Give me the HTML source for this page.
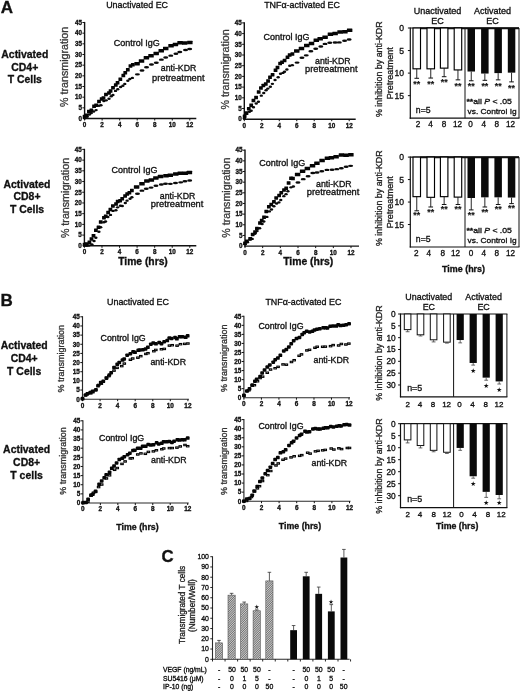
<!DOCTYPE html>
<html lang="en">
<head>
<meta charset="utf-8">
<title>Figure</title>
<style>
html,body{margin:0;padding:0;background:#fff;}
body{width:520px;height:691px;overflow:hidden;}
svg{display:block;font-family:'Liberation Sans', sans-serif;}
svg text{font-family:"Liberation Sans", sans-serif;}
</style>
</head>
<body>
<svg width="520" height="691" viewBox="0 0 520 691" style="filter:blur(0.4px)">
<rect x="0" y="0" width="520" height="691" fill="#fff"/>
<text x="0.80" y="13.20" font-size="17.0" font-weight="bold" fill="#111" stroke="#111" stroke-width="0.32">A</text>
<text x="106.20" y="8.00" font-size="8.8" fill="#111" stroke="#111" stroke-width="0.32" textLength="61.80" lengthAdjust="spacingAndGlyphs">Unactivated EC</text>
<text x="264.20" y="7.80" font-size="8.8" fill="#111" stroke="#111" stroke-width="0.32" textLength="75.80" lengthAdjust="spacingAndGlyphs">TNFα-activated EC</text>
<text x="24.80" y="58.20" font-size="10.45" font-weight="bold" text-anchor="middle" fill="#111" stroke="#111" stroke-width="0.32">Activated</text>
<text x="24.80" y="70.60" font-size="10.45" font-weight="bold" text-anchor="middle" fill="#111" stroke="#111" stroke-width="0.32">CD4+</text>
<text x="24.80" y="83.00" font-size="10.45" font-weight="bold" text-anchor="middle" fill="#111" stroke="#111" stroke-width="0.32">T Cells</text>
<text x="27.00" y="187.80" font-size="10.45" font-weight="bold" text-anchor="middle" fill="#111" stroke="#111" stroke-width="0.32">Activated</text>
<text x="27.00" y="200.20" font-size="10.45" font-weight="bold" text-anchor="middle" fill="#111" stroke="#111" stroke-width="0.32">CD8+</text>
<text x="27.00" y="212.60" font-size="10.45" font-weight="bold" text-anchor="middle" fill="#111" stroke="#111" stroke-width="0.32">T Cells</text>
<line x1="84.60" y1="21.90" x2="84.60" y2="119.20" stroke="#111" stroke-width="1.4" stroke-linecap="butt"/>
<line x1="83.90" y1="118.50" x2="196.30" y2="118.50" stroke="#111" stroke-width="1.4" stroke-linecap="butt"/>
<text x="82.00" y="120.77" font-size="6.3" font-weight="bold" text-anchor="end" fill="#111" stroke="#111" stroke-width="0.32">0</text>
<line x1="82.40" y1="107.83" x2="84.60" y2="107.83" stroke="#111" stroke-width="1.0" stroke-linecap="butt"/>
<text x="82.00" y="110.10" font-size="6.3" font-weight="bold" text-anchor="end" fill="#111" stroke="#111" stroke-width="0.32">5</text>
<line x1="82.40" y1="97.17" x2="84.60" y2="97.17" stroke="#111" stroke-width="1.0" stroke-linecap="butt"/>
<text x="82.00" y="99.43" font-size="6.3" font-weight="bold" text-anchor="end" fill="#111" stroke="#111" stroke-width="0.32">10</text>
<line x1="82.40" y1="86.50" x2="84.60" y2="86.50" stroke="#111" stroke-width="1.0" stroke-linecap="butt"/>
<text x="82.00" y="88.77" font-size="6.3" font-weight="bold" text-anchor="end" fill="#111" stroke="#111" stroke-width="0.32">15</text>
<line x1="82.40" y1="75.83" x2="84.60" y2="75.83" stroke="#111" stroke-width="1.0" stroke-linecap="butt"/>
<text x="82.00" y="78.10" font-size="6.3" font-weight="bold" text-anchor="end" fill="#111" stroke="#111" stroke-width="0.32">20</text>
<line x1="82.40" y1="65.17" x2="84.60" y2="65.17" stroke="#111" stroke-width="1.0" stroke-linecap="butt"/>
<text x="82.00" y="67.43" font-size="6.3" font-weight="bold" text-anchor="end" fill="#111" stroke="#111" stroke-width="0.32">25</text>
<line x1="82.40" y1="54.50" x2="84.60" y2="54.50" stroke="#111" stroke-width="1.0" stroke-linecap="butt"/>
<text x="82.00" y="56.77" font-size="6.3" font-weight="bold" text-anchor="end" fill="#111" stroke="#111" stroke-width="0.32">30</text>
<line x1="82.40" y1="43.83" x2="84.60" y2="43.83" stroke="#111" stroke-width="1.0" stroke-linecap="butt"/>
<text x="82.00" y="46.10" font-size="6.3" font-weight="bold" text-anchor="end" fill="#111" stroke="#111" stroke-width="0.32">35</text>
<line x1="82.40" y1="33.17" x2="84.60" y2="33.17" stroke="#111" stroke-width="1.0" stroke-linecap="butt"/>
<text x="82.00" y="35.43" font-size="6.3" font-weight="bold" text-anchor="end" fill="#111" stroke="#111" stroke-width="0.32">40</text>
<line x1="82.40" y1="22.50" x2="84.60" y2="22.50" stroke="#111" stroke-width="1.0" stroke-linecap="butt"/>
<text x="82.00" y="24.77" font-size="6.3" font-weight="bold" text-anchor="end" fill="#111" stroke="#111" stroke-width="0.32">45</text>
<line x1="84.60" y1="118.50" x2="84.60" y2="120.50" stroke="#111" stroke-width="1.0" stroke-linecap="butt"/>
<text x="84.60" y="126.90" font-size="6.3" font-weight="bold" text-anchor="middle" fill="#111" stroke="#111" stroke-width="0.32">0</text>
<line x1="102.13" y1="118.50" x2="102.13" y2="120.50" stroke="#111" stroke-width="1.0" stroke-linecap="butt"/>
<text x="102.13" y="126.90" font-size="6.3" font-weight="bold" text-anchor="middle" fill="#111" stroke="#111" stroke-width="0.32">2</text>
<line x1="119.67" y1="118.50" x2="119.67" y2="120.50" stroke="#111" stroke-width="1.0" stroke-linecap="butt"/>
<text x="119.67" y="126.90" font-size="6.3" font-weight="bold" text-anchor="middle" fill="#111" stroke="#111" stroke-width="0.32">4</text>
<line x1="137.20" y1="118.50" x2="137.20" y2="120.50" stroke="#111" stroke-width="1.0" stroke-linecap="butt"/>
<text x="137.20" y="126.90" font-size="6.3" font-weight="bold" text-anchor="middle" fill="#111" stroke="#111" stroke-width="0.32">6</text>
<line x1="154.73" y1="118.50" x2="154.73" y2="120.50" stroke="#111" stroke-width="1.0" stroke-linecap="butt"/>
<text x="154.73" y="126.90" font-size="6.3" font-weight="bold" text-anchor="middle" fill="#111" stroke="#111" stroke-width="0.32">8</text>
<line x1="172.27" y1="118.50" x2="172.27" y2="120.50" stroke="#111" stroke-width="1.0" stroke-linecap="butt"/>
<text x="172.27" y="126.90" font-size="6.3" font-weight="bold" text-anchor="middle" fill="#111" stroke="#111" stroke-width="0.32">10</text>
<line x1="189.80" y1="118.50" x2="189.80" y2="120.50" stroke="#111" stroke-width="1.0" stroke-linecap="butt"/>
<text x="189.80" y="126.90" font-size="6.3" font-weight="bold" text-anchor="middle" fill="#111" stroke="#111" stroke-width="0.32">12</text>
<ellipse cx="84.60" cy="118.25" rx="1.68" ry="1.22" fill="#0a0a0a"/><ellipse cx="87.15" cy="116.76" rx="1.68" ry="1.22" fill="#0a0a0a"/><ellipse cx="89.42" cy="114.58" rx="1.68" ry="1.22" fill="#0a0a0a"/><ellipse cx="91.31" cy="113.01" rx="1.68" ry="1.22" fill="#0a0a0a"/><ellipse cx="93.68" cy="111.54" rx="1.68" ry="1.22" fill="#0a0a0a"/><ellipse cx="96.10" cy="110.10" rx="1.68" ry="1.22" fill="#0a0a0a"/><ellipse cx="98.87" cy="105.82" rx="1.68" ry="1.22" fill="#0a0a0a"/><ellipse cx="100.94" cy="105.32" rx="1.68" ry="1.22" fill="#0a0a0a"/><ellipse cx="103.86" cy="101.04" rx="1.68" ry="1.22" fill="#0a0a0a"/><ellipse cx="106.20" cy="100.35" rx="1.68" ry="1.22" fill="#0a0a0a"/><ellipse cx="109.01" cy="98.77" rx="1.68" ry="1.22" fill="#0a0a0a"/><ellipse cx="111.28" cy="96.23" rx="1.68" ry="1.22" fill="#0a0a0a"/><ellipse cx="112.92" cy="95.03" rx="1.68" ry="1.22" fill="#0a0a0a"/><ellipse cx="115.48" cy="90.90" rx="1.68" ry="1.22" fill="#0a0a0a"/><ellipse cx="117.74" cy="89.25" rx="1.68" ry="1.22" fill="#0a0a0a"/><ellipse cx="120.61" cy="87.06" rx="1.68" ry="1.22" fill="#0a0a0a"/><ellipse cx="122.90" cy="85.83" rx="1.68" ry="1.22" fill="#0a0a0a"/><ellipse cx="124.78" cy="83.90" rx="1.68" ry="1.22" fill="#0a0a0a"/><ellipse cx="127.83" cy="80.79" rx="1.68" ry="1.22" fill="#0a0a0a"/><ellipse cx="129.83" cy="78.95" rx="1.68" ry="1.22" fill="#0a0a0a"/><ellipse cx="132.37" cy="77.89" rx="1.68" ry="1.22" fill="#0a0a0a"/><ellipse cx="137.41" cy="74.35" rx="2.52" ry="1.22" fill="#0a0a0a"/><ellipse cx="142.01" cy="70.44" rx="2.52" ry="1.22" fill="#0a0a0a"/><ellipse cx="146.54" cy="67.33" rx="2.52" ry="1.22" fill="#0a0a0a"/><ellipse cx="151.46" cy="64.53" rx="2.52" ry="1.22" fill="#0a0a0a"/><ellipse cx="156.32" cy="62.74" rx="2.52" ry="1.22" fill="#0a0a0a"/><ellipse cx="161.39" cy="59.64" rx="2.52" ry="1.22" fill="#0a0a0a"/><ellipse cx="165.69" cy="57.53" rx="2.52" ry="1.22" fill="#0a0a0a"/><ellipse cx="170.76" cy="55.65" rx="2.52" ry="1.22" fill="#0a0a0a"/><ellipse cx="175.92" cy="53.72" rx="2.52" ry="1.22" fill="#0a0a0a"/><ellipse cx="179.77" cy="52.09" rx="2.52" ry="1.22" fill="#0a0a0a"/><ellipse cx="185.54" cy="50.06" rx="2.52" ry="1.22" fill="#0a0a0a"/><ellipse cx="189.68" cy="48.97" rx="2.52" ry="1.22" fill="#0a0a0a"/><rect x="82.71" y="114.71" width="3.78" height="3.50" rx="0.3" fill="#050505"/><rect x="84.75" y="113.53" width="3.78" height="3.50" rx="0.3" fill="#050505"/><rect x="87.03" y="109.78" width="3.78" height="3.50" rx="0.3" fill="#050505"/><rect x="89.49" y="108.61" width="3.78" height="3.50" rx="0.3" fill="#050505"/><rect x="92.16" y="104.55" width="3.78" height="3.50" rx="0.3" fill="#050505"/><rect x="94.22" y="103.53" width="3.78" height="3.50" rx="0.3" fill="#050505"/><rect x="97.11" y="99.70" width="3.78" height="3.50" rx="0.3" fill="#050505"/><rect x="99.78" y="97.14" width="3.78" height="3.50" rx="0.3" fill="#050505"/><rect x="101.60" y="96.32" width="3.78" height="3.50" rx="0.3" fill="#050505"/><rect x="104.08" y="92.63" width="3.78" height="3.50" rx="0.3" fill="#050505"/><rect x="107.10" y="91.19" width="3.78" height="3.50" rx="0.3" fill="#050505"/><rect x="108.67" y="89.36" width="3.78" height="3.50" rx="0.3" fill="#050505"/><rect x="111.12" y="86.00" width="3.78" height="3.50" rx="0.3" fill="#050505"/><rect x="113.89" y="83.36" width="3.78" height="3.50" rx="0.3" fill="#050505"/><rect x="115.66" y="80.96" width="3.78" height="3.50" rx="0.3" fill="#050505"/><rect x="118.44" y="77.46" width="3.78" height="3.50" rx="0.3" fill="#050505"/><rect x="121.44" y="73.80" width="3.78" height="3.50" rx="0.3" fill="#050505"/><rect x="123.37" y="71.10" width="3.78" height="3.50" rx="0.3" fill="#050505"/><rect x="125.93" y="68.07" width="3.78" height="3.50" rx="0.3" fill="#050505"/><rect x="128.56" y="64.24" width="3.78" height="3.50" rx="0.3" fill="#050505"/><rect x="130.92" y="62.93" width="3.78" height="3.50" rx="0.3" fill="#050505"/><rect x="134.35" y="61.90" width="5.48" height="3.50" rx="0.3" fill="#050505"/><rect x="138.78" y="59.26" width="5.48" height="3.50" rx="0.3" fill="#050505"/><rect x="143.67" y="55.96" width="5.48" height="3.50" rx="0.3" fill="#050505"/><rect x="148.28" y="53.98" width="5.48" height="3.50" rx="0.3" fill="#050505"/><rect x="153.44" y="51.65" width="5.48" height="3.50" rx="0.3" fill="#050505"/><rect x="158.49" y="49.02" width="5.48" height="3.50" rx="0.3" fill="#050505"/><rect x="162.99" y="46.79" width="5.48" height="3.50" rx="0.3" fill="#050505"/><rect x="168.30" y="43.97" width="5.48" height="3.50" rx="0.3" fill="#050505"/><rect x="172.70" y="42.64" width="5.48" height="3.50" rx="0.3" fill="#050505"/><rect x="177.33" y="41.06" width="5.48" height="3.50" rx="0.3" fill="#050505"/><rect x="181.92" y="41.17" width="5.48" height="3.50" rx="0.3" fill="#050505"/><rect x="187.09" y="40.87" width="5.48" height="3.50" rx="0.3" fill="#050505"/>
<text x="68.40" y="66.90" font-size="10.7" text-anchor="middle" fill="#383838" stroke="#383838" stroke-width="0.32" transform="rotate(-90 68.40 66.90)">% transmigration</text>
<line x1="244.30" y1="22.30" x2="244.30" y2="119.90" stroke="#111" stroke-width="1.4" stroke-linecap="butt"/>
<line x1="243.60" y1="119.20" x2="355.70" y2="119.20" stroke="#111" stroke-width="1.4" stroke-linecap="butt"/>
<text x="241.70" y="121.47" font-size="6.3" font-weight="bold" text-anchor="end" fill="#111" stroke="#111" stroke-width="0.32">0</text>
<line x1="242.10" y1="108.50" x2="244.30" y2="108.50" stroke="#111" stroke-width="1.0" stroke-linecap="butt"/>
<text x="241.70" y="110.77" font-size="6.3" font-weight="bold" text-anchor="end" fill="#111" stroke="#111" stroke-width="0.32">5</text>
<line x1="242.10" y1="97.80" x2="244.30" y2="97.80" stroke="#111" stroke-width="1.0" stroke-linecap="butt"/>
<text x="241.70" y="100.07" font-size="6.3" font-weight="bold" text-anchor="end" fill="#111" stroke="#111" stroke-width="0.32">10</text>
<line x1="242.10" y1="87.10" x2="244.30" y2="87.10" stroke="#111" stroke-width="1.0" stroke-linecap="butt"/>
<text x="241.70" y="89.37" font-size="6.3" font-weight="bold" text-anchor="end" fill="#111" stroke="#111" stroke-width="0.32">15</text>
<line x1="242.10" y1="76.40" x2="244.30" y2="76.40" stroke="#111" stroke-width="1.0" stroke-linecap="butt"/>
<text x="241.70" y="78.67" font-size="6.3" font-weight="bold" text-anchor="end" fill="#111" stroke="#111" stroke-width="0.32">20</text>
<line x1="242.10" y1="65.70" x2="244.30" y2="65.70" stroke="#111" stroke-width="1.0" stroke-linecap="butt"/>
<text x="241.70" y="67.97" font-size="6.3" font-weight="bold" text-anchor="end" fill="#111" stroke="#111" stroke-width="0.32">25</text>
<line x1="242.10" y1="55.00" x2="244.30" y2="55.00" stroke="#111" stroke-width="1.0" stroke-linecap="butt"/>
<text x="241.70" y="57.27" font-size="6.3" font-weight="bold" text-anchor="end" fill="#111" stroke="#111" stroke-width="0.32">30</text>
<line x1="242.10" y1="44.30" x2="244.30" y2="44.30" stroke="#111" stroke-width="1.0" stroke-linecap="butt"/>
<text x="241.70" y="46.57" font-size="6.3" font-weight="bold" text-anchor="end" fill="#111" stroke="#111" stroke-width="0.32">35</text>
<line x1="242.10" y1="33.60" x2="244.30" y2="33.60" stroke="#111" stroke-width="1.0" stroke-linecap="butt"/>
<text x="241.70" y="35.87" font-size="6.3" font-weight="bold" text-anchor="end" fill="#111" stroke="#111" stroke-width="0.32">40</text>
<line x1="242.10" y1="22.90" x2="244.30" y2="22.90" stroke="#111" stroke-width="1.0" stroke-linecap="butt"/>
<text x="241.70" y="25.17" font-size="6.3" font-weight="bold" text-anchor="end" fill="#111" stroke="#111" stroke-width="0.32">45</text>
<line x1="244.30" y1="119.20" x2="244.30" y2="121.20" stroke="#111" stroke-width="1.0" stroke-linecap="butt"/>
<text x="244.30" y="127.60" font-size="6.3" font-weight="bold" text-anchor="middle" fill="#111" stroke="#111" stroke-width="0.32">0</text>
<line x1="261.78" y1="119.20" x2="261.78" y2="121.20" stroke="#111" stroke-width="1.0" stroke-linecap="butt"/>
<text x="261.78" y="127.60" font-size="6.3" font-weight="bold" text-anchor="middle" fill="#111" stroke="#111" stroke-width="0.32">2</text>
<line x1="279.27" y1="119.20" x2="279.27" y2="121.20" stroke="#111" stroke-width="1.0" stroke-linecap="butt"/>
<text x="279.27" y="127.60" font-size="6.3" font-weight="bold" text-anchor="middle" fill="#111" stroke="#111" stroke-width="0.32">4</text>
<line x1="296.75" y1="119.20" x2="296.75" y2="121.20" stroke="#111" stroke-width="1.0" stroke-linecap="butt"/>
<text x="296.75" y="127.60" font-size="6.3" font-weight="bold" text-anchor="middle" fill="#111" stroke="#111" stroke-width="0.32">6</text>
<line x1="314.23" y1="119.20" x2="314.23" y2="121.20" stroke="#111" stroke-width="1.0" stroke-linecap="butt"/>
<text x="314.23" y="127.60" font-size="6.3" font-weight="bold" text-anchor="middle" fill="#111" stroke="#111" stroke-width="0.32">8</text>
<line x1="331.72" y1="119.20" x2="331.72" y2="121.20" stroke="#111" stroke-width="1.0" stroke-linecap="butt"/>
<text x="331.72" y="127.60" font-size="6.3" font-weight="bold" text-anchor="middle" fill="#111" stroke="#111" stroke-width="0.32">10</text>
<line x1="349.20" y1="119.20" x2="349.20" y2="121.20" stroke="#111" stroke-width="1.0" stroke-linecap="butt"/>
<text x="349.20" y="127.60" font-size="6.3" font-weight="bold" text-anchor="middle" fill="#111" stroke="#111" stroke-width="0.32">12</text>
<ellipse cx="244.35" cy="118.55" rx="1.68" ry="1.22" fill="#0a0a0a"/><ellipse cx="246.71" cy="113.88" rx="1.68" ry="1.22" fill="#0a0a0a"/><ellipse cx="249.45" cy="111.73" rx="1.68" ry="1.22" fill="#0a0a0a"/><ellipse cx="251.20" cy="110.71" rx="1.68" ry="1.22" fill="#0a0a0a"/><ellipse cx="253.49" cy="107.25" rx="1.68" ry="1.22" fill="#0a0a0a"/><ellipse cx="256.25" cy="103.44" rx="1.68" ry="1.22" fill="#0a0a0a"/><ellipse cx="258.43" cy="101.67" rx="1.68" ry="1.22" fill="#0a0a0a"/><ellipse cx="261.32" cy="95.63" rx="1.68" ry="1.22" fill="#0a0a0a"/><ellipse cx="263.74" cy="92.97" rx="1.68" ry="1.22" fill="#0a0a0a"/><ellipse cx="266.09" cy="90.25" rx="1.68" ry="1.22" fill="#0a0a0a"/><ellipse cx="267.85" cy="88.62" rx="1.68" ry="1.22" fill="#0a0a0a"/><ellipse cx="270.37" cy="86.68" rx="1.68" ry="1.22" fill="#0a0a0a"/><ellipse cx="272.41" cy="83.87" rx="1.68" ry="1.22" fill="#0a0a0a"/><ellipse cx="275.04" cy="80.07" rx="1.68" ry="1.22" fill="#0a0a0a"/><ellipse cx="278.16" cy="77.29" rx="1.68" ry="1.22" fill="#0a0a0a"/><ellipse cx="280.52" cy="73.66" rx="1.68" ry="1.22" fill="#0a0a0a"/><ellipse cx="282.92" cy="72.89" rx="1.68" ry="1.22" fill="#0a0a0a"/><ellipse cx="284.54" cy="71.71" rx="1.68" ry="1.22" fill="#0a0a0a"/><ellipse cx="286.90" cy="69.57" rx="1.68" ry="1.22" fill="#0a0a0a"/><ellipse cx="289.73" cy="65.80" rx="1.68" ry="1.22" fill="#0a0a0a"/><ellipse cx="292.34" cy="65.13" rx="1.68" ry="1.22" fill="#0a0a0a"/><ellipse cx="297.06" cy="62.62" rx="2.52" ry="1.22" fill="#0a0a0a"/><ellipse cx="301.95" cy="57.81" rx="2.52" ry="1.22" fill="#0a0a0a"/><ellipse cx="306.26" cy="55.35" rx="2.52" ry="1.22" fill="#0a0a0a"/><ellipse cx="310.88" cy="51.31" rx="2.52" ry="1.22" fill="#0a0a0a"/><ellipse cx="315.71" cy="48.81" rx="2.52" ry="1.22" fill="#0a0a0a"/><ellipse cx="320.83" cy="46.51" rx="2.52" ry="1.22" fill="#0a0a0a"/><ellipse cx="324.99" cy="43.88" rx="2.52" ry="1.22" fill="#0a0a0a"/><ellipse cx="329.76" cy="42.82" rx="2.52" ry="1.22" fill="#0a0a0a"/><ellipse cx="335.06" cy="42.52" rx="2.52" ry="1.22" fill="#0a0a0a"/><ellipse cx="339.28" cy="42.38" rx="2.52" ry="1.22" fill="#0a0a0a"/><ellipse cx="344.59" cy="40.77" rx="2.52" ry="1.22" fill="#0a0a0a"/><ellipse cx="349.13" cy="39.51" rx="2.52" ry="1.22" fill="#0a0a0a"/><rect x="242.75" y="114.38" width="3.78" height="3.50" rx="0.3" fill="#050505"/><rect x="244.53" y="111.35" width="3.78" height="3.50" rx="0.3" fill="#050505"/><rect x="246.91" y="106.88" width="3.78" height="3.50" rx="0.3" fill="#050505"/><rect x="249.31" y="103.45" width="3.78" height="3.50" rx="0.3" fill="#050505"/><rect x="251.56" y="98.73" width="3.78" height="3.50" rx="0.3" fill="#050505"/><rect x="254.18" y="95.69" width="3.78" height="3.50" rx="0.3" fill="#050505"/><rect x="256.80" y="90.28" width="3.78" height="3.50" rx="0.3" fill="#050505"/><rect x="259.02" y="86.34" width="3.78" height="3.50" rx="0.3" fill="#050505"/><rect x="261.48" y="83.87" width="3.78" height="3.50" rx="0.3" fill="#050505"/><rect x="263.89" y="82.31" width="3.78" height="3.50" rx="0.3" fill="#050505"/><rect x="266.19" y="79.28" width="3.78" height="3.50" rx="0.3" fill="#050505"/><rect x="268.11" y="75.61" width="3.78" height="3.50" rx="0.3" fill="#050505"/><rect x="270.68" y="72.89" width="3.78" height="3.50" rx="0.3" fill="#050505"/><rect x="273.64" y="68.48" width="3.78" height="3.50" rx="0.3" fill="#050505"/><rect x="275.60" y="65.78" width="3.78" height="3.50" rx="0.3" fill="#050505"/><rect x="278.23" y="61.82" width="3.78" height="3.50" rx="0.3" fill="#050505"/><rect x="280.14" y="60.53" width="3.78" height="3.50" rx="0.3" fill="#050505"/><rect x="282.68" y="58.77" width="3.78" height="3.50" rx="0.3" fill="#050505"/><rect x="285.61" y="55.43" width="3.78" height="3.50" rx="0.3" fill="#050505"/><rect x="287.77" y="53.26" width="3.78" height="3.50" rx="0.3" fill="#050505"/><rect x="290.52" y="52.18" width="3.78" height="3.50" rx="0.3" fill="#050505"/><rect x="294.02" y="49.16" width="5.48" height="3.50" rx="0.3" fill="#050505"/><rect x="298.73" y="46.71" width="5.48" height="3.50" rx="0.3" fill="#050505"/><rect x="304.01" y="43.73" width="5.48" height="3.50" rx="0.3" fill="#050505"/><rect x="308.78" y="41.78" width="5.48" height="3.50" rx="0.3" fill="#050505"/><rect x="313.55" y="38.45" width="5.48" height="3.50" rx="0.3" fill="#050505"/><rect x="317.45" y="37.00" width="5.48" height="3.50" rx="0.3" fill="#050505"/><rect x="322.35" y="35.42" width="5.48" height="3.50" rx="0.3" fill="#050505"/><rect x="327.68" y="32.56" width="5.48" height="3.50" rx="0.3" fill="#050505"/><rect x="332.38" y="31.73" width="5.48" height="3.50" rx="0.3" fill="#050505"/><rect x="337.32" y="30.21" width="5.48" height="3.50" rx="0.3" fill="#050505"/><rect x="342.17" y="30.05" width="5.48" height="3.50" rx="0.3" fill="#050505"/><rect x="346.90" y="28.60" width="5.48" height="3.50" rx="0.3" fill="#050505"/>
<text x="229.50" y="69.40" font-size="10.7" text-anchor="middle" fill="#383838" stroke="#383838" stroke-width="0.32" transform="rotate(-90 229.50 69.40)">% transmigration</text>
<line x1="84.40" y1="148.80" x2="84.40" y2="246.50" stroke="#111" stroke-width="1.4" stroke-linecap="butt"/>
<line x1="83.70" y1="245.80" x2="196.30" y2="245.80" stroke="#111" stroke-width="1.4" stroke-linecap="butt"/>
<text x="81.80" y="248.07" font-size="6.3" font-weight="bold" text-anchor="end" fill="#111" stroke="#111" stroke-width="0.32">0</text>
<line x1="82.20" y1="235.09" x2="84.40" y2="235.09" stroke="#111" stroke-width="1.0" stroke-linecap="butt"/>
<text x="81.80" y="237.36" font-size="6.3" font-weight="bold" text-anchor="end" fill="#111" stroke="#111" stroke-width="0.32">5</text>
<line x1="82.20" y1="224.38" x2="84.40" y2="224.38" stroke="#111" stroke-width="1.0" stroke-linecap="butt"/>
<text x="81.80" y="226.65" font-size="6.3" font-weight="bold" text-anchor="end" fill="#111" stroke="#111" stroke-width="0.32">10</text>
<line x1="82.20" y1="213.67" x2="84.40" y2="213.67" stroke="#111" stroke-width="1.0" stroke-linecap="butt"/>
<text x="81.80" y="215.93" font-size="6.3" font-weight="bold" text-anchor="end" fill="#111" stroke="#111" stroke-width="0.32">15</text>
<line x1="82.20" y1="202.96" x2="84.40" y2="202.96" stroke="#111" stroke-width="1.0" stroke-linecap="butt"/>
<text x="81.80" y="205.22" font-size="6.3" font-weight="bold" text-anchor="end" fill="#111" stroke="#111" stroke-width="0.32">20</text>
<line x1="82.20" y1="192.24" x2="84.40" y2="192.24" stroke="#111" stroke-width="1.0" stroke-linecap="butt"/>
<text x="81.80" y="194.51" font-size="6.3" font-weight="bold" text-anchor="end" fill="#111" stroke="#111" stroke-width="0.32">25</text>
<line x1="82.20" y1="181.53" x2="84.40" y2="181.53" stroke="#111" stroke-width="1.0" stroke-linecap="butt"/>
<text x="81.80" y="183.80" font-size="6.3" font-weight="bold" text-anchor="end" fill="#111" stroke="#111" stroke-width="0.32">30</text>
<line x1="82.20" y1="170.82" x2="84.40" y2="170.82" stroke="#111" stroke-width="1.0" stroke-linecap="butt"/>
<text x="81.80" y="173.09" font-size="6.3" font-weight="bold" text-anchor="end" fill="#111" stroke="#111" stroke-width="0.32">35</text>
<line x1="82.20" y1="160.11" x2="84.40" y2="160.11" stroke="#111" stroke-width="1.0" stroke-linecap="butt"/>
<text x="81.80" y="162.38" font-size="6.3" font-weight="bold" text-anchor="end" fill="#111" stroke="#111" stroke-width="0.32">40</text>
<line x1="82.20" y1="149.40" x2="84.40" y2="149.40" stroke="#111" stroke-width="1.0" stroke-linecap="butt"/>
<text x="81.80" y="151.67" font-size="6.3" font-weight="bold" text-anchor="end" fill="#111" stroke="#111" stroke-width="0.32">45</text>
<line x1="84.40" y1="245.80" x2="84.40" y2="247.80" stroke="#111" stroke-width="1.0" stroke-linecap="butt"/>
<text x="84.40" y="254.20" font-size="6.3" font-weight="bold" text-anchor="middle" fill="#111" stroke="#111" stroke-width="0.32">0</text>
<line x1="101.97" y1="245.80" x2="101.97" y2="247.80" stroke="#111" stroke-width="1.0" stroke-linecap="butt"/>
<text x="101.97" y="254.20" font-size="6.3" font-weight="bold" text-anchor="middle" fill="#111" stroke="#111" stroke-width="0.32">2</text>
<line x1="119.53" y1="245.80" x2="119.53" y2="247.80" stroke="#111" stroke-width="1.0" stroke-linecap="butt"/>
<text x="119.53" y="254.20" font-size="6.3" font-weight="bold" text-anchor="middle" fill="#111" stroke="#111" stroke-width="0.32">4</text>
<line x1="137.10" y1="245.80" x2="137.10" y2="247.80" stroke="#111" stroke-width="1.0" stroke-linecap="butt"/>
<text x="137.10" y="254.20" font-size="6.3" font-weight="bold" text-anchor="middle" fill="#111" stroke="#111" stroke-width="0.32">6</text>
<line x1="154.67" y1="245.80" x2="154.67" y2="247.80" stroke="#111" stroke-width="1.0" stroke-linecap="butt"/>
<text x="154.67" y="254.20" font-size="6.3" font-weight="bold" text-anchor="middle" fill="#111" stroke="#111" stroke-width="0.32">8</text>
<line x1="172.23" y1="245.80" x2="172.23" y2="247.80" stroke="#111" stroke-width="1.0" stroke-linecap="butt"/>
<text x="172.23" y="254.20" font-size="6.3" font-weight="bold" text-anchor="middle" fill="#111" stroke="#111" stroke-width="0.32">10</text>
<line x1="189.80" y1="245.80" x2="189.80" y2="247.80" stroke="#111" stroke-width="1.0" stroke-linecap="butt"/>
<text x="189.80" y="254.20" font-size="6.3" font-weight="bold" text-anchor="middle" fill="#111" stroke="#111" stroke-width="0.32">12</text>
<ellipse cx="84.40" cy="245.80" rx="1.68" ry="1.22" fill="#0a0a0a"/><ellipse cx="86.81" cy="245.80" rx="1.68" ry="1.22" fill="#0a0a0a"/><ellipse cx="88.87" cy="245.54" rx="1.68" ry="1.22" fill="#0a0a0a"/><ellipse cx="91.82" cy="244.37" rx="1.68" ry="1.22" fill="#0a0a0a"/><ellipse cx="94.04" cy="240.93" rx="1.68" ry="1.22" fill="#0a0a0a"/><ellipse cx="95.87" cy="237.79" rx="1.68" ry="1.22" fill="#0a0a0a"/><ellipse cx="98.90" cy="231.74" rx="1.68" ry="1.22" fill="#0a0a0a"/><ellipse cx="100.71" cy="227.28" rx="1.68" ry="1.22" fill="#0a0a0a"/><ellipse cx="103.87" cy="222.29" rx="1.68" ry="1.22" fill="#0a0a0a"/><ellipse cx="105.54" cy="221.59" rx="1.68" ry="1.22" fill="#0a0a0a"/><ellipse cx="107.87" cy="217.08" rx="1.68" ry="1.22" fill="#0a0a0a"/><ellipse cx="110.51" cy="214.88" rx="1.68" ry="1.22" fill="#0a0a0a"/><ellipse cx="113.06" cy="210.89" rx="1.68" ry="1.22" fill="#0a0a0a"/><ellipse cx="115.88" cy="210.23" rx="1.68" ry="1.22" fill="#0a0a0a"/><ellipse cx="117.57" cy="207.36" rx="1.68" ry="1.22" fill="#0a0a0a"/><ellipse cx="120.41" cy="205.74" rx="1.68" ry="1.22" fill="#0a0a0a"/><ellipse cx="122.29" cy="205.97" rx="1.68" ry="1.22" fill="#0a0a0a"/><ellipse cx="125.32" cy="203.04" rx="1.68" ry="1.22" fill="#0a0a0a"/><ellipse cx="127.07" cy="200.63" rx="1.68" ry="1.22" fill="#0a0a0a"/><ellipse cx="130.06" cy="198.75" rx="1.68" ry="1.22" fill="#0a0a0a"/><ellipse cx="131.87" cy="197.20" rx="1.68" ry="1.22" fill="#0a0a0a"/><ellipse cx="137.48" cy="193.81" rx="2.52" ry="1.22" fill="#0a0a0a"/><ellipse cx="141.95" cy="190.64" rx="2.52" ry="1.22" fill="#0a0a0a"/><ellipse cx="146.29" cy="188.84" rx="2.52" ry="1.22" fill="#0a0a0a"/><ellipse cx="151.06" cy="187.62" rx="2.52" ry="1.22" fill="#0a0a0a"/><ellipse cx="155.95" cy="185.77" rx="2.52" ry="1.22" fill="#0a0a0a"/><ellipse cx="161.33" cy="184.49" rx="2.52" ry="1.22" fill="#0a0a0a"/><ellipse cx="165.51" cy="183.74" rx="2.52" ry="1.22" fill="#0a0a0a"/><ellipse cx="170.37" cy="183.85" rx="2.52" ry="1.22" fill="#0a0a0a"/><ellipse cx="175.48" cy="183.00" rx="2.52" ry="1.22" fill="#0a0a0a"/><ellipse cx="180.68" cy="182.35" rx="2.52" ry="1.22" fill="#0a0a0a"/><ellipse cx="184.94" cy="181.18" rx="2.52" ry="1.22" fill="#0a0a0a"/><ellipse cx="189.69" cy="180.47" rx="2.52" ry="1.22" fill="#0a0a0a"/><rect x="82.71" y="242.82" width="3.78" height="3.50" rx="0.3" fill="#050505"/><rect x="84.74" y="242.18" width="3.78" height="3.50" rx="0.3" fill="#050505"/><rect x="87.52" y="240.44" width="3.78" height="3.50" rx="0.3" fill="#050505"/><rect x="89.60" y="237.27" width="3.78" height="3.50" rx="0.3" fill="#050505"/><rect x="91.62" y="234.09" width="3.78" height="3.50" rx="0.3" fill="#050505"/><rect x="94.03" y="228.59" width="3.78" height="3.50" rx="0.3" fill="#050505"/><rect x="96.63" y="225.59" width="3.78" height="3.50" rx="0.3" fill="#050505"/><rect x="98.84" y="220.26" width="3.78" height="3.50" rx="0.3" fill="#050505"/><rect x="102.06" y="215.92" width="3.78" height="3.50" rx="0.3" fill="#050505"/><rect x="103.84" y="214.55" width="3.78" height="3.50" rx="0.3" fill="#050505"/><rect x="106.25" y="210.81" width="3.78" height="3.50" rx="0.3" fill="#050505"/><rect x="108.50" y="207.82" width="3.78" height="3.50" rx="0.3" fill="#050505"/><rect x="111.01" y="204.13" width="3.78" height="3.50" rx="0.3" fill="#050505"/><rect x="114.15" y="202.19" width="3.78" height="3.50" rx="0.3" fill="#050505"/><rect x="115.78" y="199.70" width="3.78" height="3.50" rx="0.3" fill="#050505"/><rect x="118.24" y="198.88" width="3.78" height="3.50" rx="0.3" fill="#050505"/><rect x="120.31" y="197.00" width="3.78" height="3.50" rx="0.3" fill="#050505"/><rect x="123.21" y="194.17" width="3.78" height="3.50" rx="0.3" fill="#050505"/><rect x="125.31" y="192.32" width="3.78" height="3.50" rx="0.3" fill="#050505"/><rect x="127.50" y="191.07" width="3.78" height="3.50" rx="0.3" fill="#050505"/><rect x="129.99" y="188.81" width="3.78" height="3.50" rx="0.3" fill="#050505"/><rect x="133.86" y="185.17" width="5.48" height="3.50" rx="0.3" fill="#050505"/><rect x="139.24" y="181.95" width="5.48" height="3.50" rx="0.3" fill="#050505"/><rect x="144.11" y="179.34" width="5.48" height="3.50" rx="0.3" fill="#050505"/><rect x="148.62" y="178.24" width="5.48" height="3.50" rx="0.3" fill="#050505"/><rect x="153.15" y="176.17" width="5.48" height="3.50" rx="0.3" fill="#050505"/><rect x="157.83" y="174.87" width="5.48" height="3.50" rx="0.3" fill="#050505"/><rect x="163.24" y="173.94" width="5.48" height="3.50" rx="0.3" fill="#050505"/><rect x="167.52" y="173.61" width="5.48" height="3.50" rx="0.3" fill="#050505"/><rect x="173.04" y="172.32" width="5.48" height="3.50" rx="0.3" fill="#050505"/><rect x="177.57" y="171.42" width="5.48" height="3.50" rx="0.3" fill="#050505"/><rect x="182.47" y="171.62" width="5.48" height="3.50" rx="0.3" fill="#050505"/><rect x="186.67" y="170.83" width="5.48" height="3.50" rx="0.3" fill="#050505"/>
<text x="68.80" y="198.00" font-size="10.7" text-anchor="middle" fill="#383838" stroke="#383838" stroke-width="0.32" transform="rotate(-90 68.80 198.00)">% transmigration</text>
<line x1="245.00" y1="149.60" x2="245.00" y2="246.80" stroke="#111" stroke-width="1.4" stroke-linecap="butt"/>
<line x1="244.30" y1="246.10" x2="359.00" y2="246.10" stroke="#111" stroke-width="1.4" stroke-linecap="butt"/>
<text x="242.40" y="248.37" font-size="6.3" font-weight="bold" text-anchor="end" fill="#111" stroke="#111" stroke-width="0.32">0</text>
<line x1="242.80" y1="235.44" x2="245.00" y2="235.44" stroke="#111" stroke-width="1.0" stroke-linecap="butt"/>
<text x="242.40" y="237.71" font-size="6.3" font-weight="bold" text-anchor="end" fill="#111" stroke="#111" stroke-width="0.32">5</text>
<line x1="242.80" y1="224.79" x2="245.00" y2="224.79" stroke="#111" stroke-width="1.0" stroke-linecap="butt"/>
<text x="242.40" y="227.06" font-size="6.3" font-weight="bold" text-anchor="end" fill="#111" stroke="#111" stroke-width="0.32">10</text>
<line x1="242.80" y1="214.13" x2="245.00" y2="214.13" stroke="#111" stroke-width="1.0" stroke-linecap="butt"/>
<text x="242.40" y="216.40" font-size="6.3" font-weight="bold" text-anchor="end" fill="#111" stroke="#111" stroke-width="0.32">15</text>
<line x1="242.80" y1="203.48" x2="245.00" y2="203.48" stroke="#111" stroke-width="1.0" stroke-linecap="butt"/>
<text x="242.40" y="205.75" font-size="6.3" font-weight="bold" text-anchor="end" fill="#111" stroke="#111" stroke-width="0.32">20</text>
<line x1="242.80" y1="192.82" x2="245.00" y2="192.82" stroke="#111" stroke-width="1.0" stroke-linecap="butt"/>
<text x="242.40" y="195.09" font-size="6.3" font-weight="bold" text-anchor="end" fill="#111" stroke="#111" stroke-width="0.32">25</text>
<line x1="242.80" y1="182.17" x2="245.00" y2="182.17" stroke="#111" stroke-width="1.0" stroke-linecap="butt"/>
<text x="242.40" y="184.43" font-size="6.3" font-weight="bold" text-anchor="end" fill="#111" stroke="#111" stroke-width="0.32">30</text>
<line x1="242.80" y1="171.51" x2="245.00" y2="171.51" stroke="#111" stroke-width="1.0" stroke-linecap="butt"/>
<text x="242.40" y="173.78" font-size="6.3" font-weight="bold" text-anchor="end" fill="#111" stroke="#111" stroke-width="0.32">35</text>
<line x1="242.80" y1="160.86" x2="245.00" y2="160.86" stroke="#111" stroke-width="1.0" stroke-linecap="butt"/>
<text x="242.40" y="163.12" font-size="6.3" font-weight="bold" text-anchor="end" fill="#111" stroke="#111" stroke-width="0.32">40</text>
<line x1="242.80" y1="150.20" x2="245.00" y2="150.20" stroke="#111" stroke-width="1.0" stroke-linecap="butt"/>
<text x="242.40" y="152.47" font-size="6.3" font-weight="bold" text-anchor="end" fill="#111" stroke="#111" stroke-width="0.32">45</text>
<line x1="245.00" y1="246.10" x2="245.00" y2="248.10" stroke="#111" stroke-width="1.0" stroke-linecap="butt"/>
<text x="245.00" y="254.50" font-size="6.3" font-weight="bold" text-anchor="middle" fill="#111" stroke="#111" stroke-width="0.32">0</text>
<line x1="262.67" y1="246.10" x2="262.67" y2="248.10" stroke="#111" stroke-width="1.0" stroke-linecap="butt"/>
<text x="262.67" y="254.50" font-size="6.3" font-weight="bold" text-anchor="middle" fill="#111" stroke="#111" stroke-width="0.32">2</text>
<line x1="280.33" y1="246.10" x2="280.33" y2="248.10" stroke="#111" stroke-width="1.0" stroke-linecap="butt"/>
<text x="280.33" y="254.50" font-size="6.3" font-weight="bold" text-anchor="middle" fill="#111" stroke="#111" stroke-width="0.32">4</text>
<line x1="298.00" y1="246.10" x2="298.00" y2="248.10" stroke="#111" stroke-width="1.0" stroke-linecap="butt"/>
<text x="298.00" y="254.50" font-size="6.3" font-weight="bold" text-anchor="middle" fill="#111" stroke="#111" stroke-width="0.32">6</text>
<line x1="315.67" y1="246.10" x2="315.67" y2="248.10" stroke="#111" stroke-width="1.0" stroke-linecap="butt"/>
<text x="315.67" y="254.50" font-size="6.3" font-weight="bold" text-anchor="middle" fill="#111" stroke="#111" stroke-width="0.32">8</text>
<line x1="333.33" y1="246.10" x2="333.33" y2="248.10" stroke="#111" stroke-width="1.0" stroke-linecap="butt"/>
<text x="333.33" y="254.50" font-size="6.3" font-weight="bold" text-anchor="middle" fill="#111" stroke="#111" stroke-width="0.32">10</text>
<line x1="351.00" y1="246.10" x2="351.00" y2="248.10" stroke="#111" stroke-width="1.0" stroke-linecap="butt"/>
<text x="351.00" y="254.50" font-size="6.3" font-weight="bold" text-anchor="middle" fill="#111" stroke="#111" stroke-width="0.32">12</text>
<ellipse cx="245.00" cy="244.25" rx="1.68" ry="1.22" fill="#0a0a0a"/><ellipse cx="247.47" cy="242.23" rx="1.68" ry="1.22" fill="#0a0a0a"/><ellipse cx="249.95" cy="239.59" rx="1.68" ry="1.22" fill="#0a0a0a"/><ellipse cx="252.22" cy="238.89" rx="1.68" ry="1.22" fill="#0a0a0a"/><ellipse cx="254.95" cy="233.80" rx="1.68" ry="1.22" fill="#0a0a0a"/><ellipse cx="257.05" cy="231.11" rx="1.68" ry="1.22" fill="#0a0a0a"/><ellipse cx="259.62" cy="228.30" rx="1.68" ry="1.22" fill="#0a0a0a"/><ellipse cx="262.11" cy="224.08" rx="1.68" ry="1.22" fill="#0a0a0a"/><ellipse cx="263.82" cy="221.45" rx="1.68" ry="1.22" fill="#0a0a0a"/><ellipse cx="266.92" cy="216.88" rx="1.68" ry="1.22" fill="#0a0a0a"/><ellipse cx="269.35" cy="211.39" rx="1.68" ry="1.22" fill="#0a0a0a"/><ellipse cx="271.49" cy="209.52" rx="1.68" ry="1.22" fill="#0a0a0a"/><ellipse cx="273.89" cy="206.27" rx="1.68" ry="1.22" fill="#0a0a0a"/><ellipse cx="276.60" cy="203.54" rx="1.68" ry="1.22" fill="#0a0a0a"/><ellipse cx="278.88" cy="202.39" rx="1.68" ry="1.22" fill="#0a0a0a"/><ellipse cx="280.76" cy="199.91" rx="1.68" ry="1.22" fill="#0a0a0a"/><ellipse cx="283.80" cy="196.13" rx="1.68" ry="1.22" fill="#0a0a0a"/><ellipse cx="286.03" cy="194.13" rx="1.68" ry="1.22" fill="#0a0a0a"/><ellipse cx="287.90" cy="191.27" rx="1.68" ry="1.22" fill="#0a0a0a"/><ellipse cx="290.96" cy="187.37" rx="1.68" ry="1.22" fill="#0a0a0a"/><ellipse cx="293.37" cy="186.45" rx="1.68" ry="1.22" fill="#0a0a0a"/><ellipse cx="297.96" cy="182.46" rx="2.52" ry="1.22" fill="#0a0a0a"/><ellipse cx="303.24" cy="179.14" rx="2.52" ry="1.22" fill="#0a0a0a"/><ellipse cx="308.10" cy="176.33" rx="2.52" ry="1.22" fill="#0a0a0a"/><ellipse cx="312.79" cy="172.95" rx="2.52" ry="1.22" fill="#0a0a0a"/><ellipse cx="317.03" cy="172.54" rx="2.52" ry="1.22" fill="#0a0a0a"/><ellipse cx="321.78" cy="171.22" rx="2.52" ry="1.22" fill="#0a0a0a"/><ellipse cx="326.93" cy="169.88" rx="2.52" ry="1.22" fill="#0a0a0a"/><ellipse cx="332.07" cy="169.76" rx="2.52" ry="1.22" fill="#0a0a0a"/><ellipse cx="336.76" cy="169.14" rx="2.52" ry="1.22" fill="#0a0a0a"/><ellipse cx="341.35" cy="168.33" rx="2.52" ry="1.22" fill="#0a0a0a"/><ellipse cx="346.17" cy="166.66" rx="2.52" ry="1.22" fill="#0a0a0a"/><ellipse cx="350.62" cy="165.85" rx="2.52" ry="1.22" fill="#0a0a0a"/><rect x="243.11" y="241.42" width="3.78" height="3.50" rx="0.3" fill="#050505"/><rect x="244.99" y="239.41" width="3.78" height="3.50" rx="0.3" fill="#050505"/><rect x="248.29" y="236.99" width="3.78" height="3.50" rx="0.3" fill="#050505"/><rect x="250.79" y="232.64" width="3.78" height="3.50" rx="0.3" fill="#050505"/><rect x="253.17" y="230.19" width="3.78" height="3.50" rx="0.3" fill="#050505"/><rect x="255.02" y="226.83" width="3.78" height="3.50" rx="0.3" fill="#050505"/><rect x="258.09" y="221.18" width="3.78" height="3.50" rx="0.3" fill="#050505"/><rect x="259.83" y="218.63" width="3.78" height="3.50" rx="0.3" fill="#050505"/><rect x="262.14" y="215.48" width="3.78" height="3.50" rx="0.3" fill="#050505"/><rect x="264.37" y="209.66" width="3.78" height="3.50" rx="0.3" fill="#050505"/><rect x="266.97" y="205.03" width="3.78" height="3.50" rx="0.3" fill="#050505"/><rect x="269.34" y="202.71" width="3.78" height="3.50" rx="0.3" fill="#050505"/><rect x="272.03" y="200.12" width="3.78" height="3.50" rx="0.3" fill="#050505"/><rect x="274.29" y="196.14" width="3.78" height="3.50" rx="0.3" fill="#050505"/><rect x="277.24" y="193.63" width="3.78" height="3.50" rx="0.3" fill="#050505"/><rect x="279.39" y="191.02" width="3.78" height="3.50" rx="0.3" fill="#050505"/><rect x="282.12" y="188.35" width="3.78" height="3.50" rx="0.3" fill="#050505"/><rect x="284.30" y="186.46" width="3.78" height="3.50" rx="0.3" fill="#050505"/><rect x="286.72" y="181.23" width="3.78" height="3.50" rx="0.3" fill="#050505"/><rect x="289.15" y="176.60" width="3.78" height="3.50" rx="0.3" fill="#050505"/><rect x="291.07" y="176.78" width="3.78" height="3.50" rx="0.3" fill="#050505"/><rect x="294.86" y="172.82" width="5.48" height="3.50" rx="0.3" fill="#050505"/><rect x="299.86" y="169.42" width="5.48" height="3.50" rx="0.3" fill="#050505"/><rect x="304.64" y="166.65" width="5.48" height="3.50" rx="0.3" fill="#050505"/><rect x="309.77" y="163.93" width="5.48" height="3.50" rx="0.3" fill="#050505"/><rect x="314.17" y="161.59" width="5.48" height="3.50" rx="0.3" fill="#050505"/><rect x="319.35" y="158.71" width="5.48" height="3.50" rx="0.3" fill="#050505"/><rect x="324.69" y="156.41" width="5.48" height="3.50" rx="0.3" fill="#050505"/><rect x="328.66" y="156.05" width="5.48" height="3.50" rx="0.3" fill="#050505"/><rect x="333.37" y="155.02" width="5.48" height="3.50" rx="0.3" fill="#050505"/><rect x="338.70" y="153.34" width="5.48" height="3.50" rx="0.3" fill="#050505"/><rect x="343.35" y="153.43" width="5.48" height="3.50" rx="0.3" fill="#050505"/><rect x="348.13" y="152.96" width="5.48" height="3.50" rx="0.3" fill="#050505"/>
<text x="230.40" y="197.70" font-size="10.7" text-anchor="middle" fill="#383838" stroke="#383838" stroke-width="0.32" transform="rotate(-90 230.40 197.70)">% transmigration</text>
<text x="113.80" y="45.60" font-size="8.7" fill="#111" stroke="#111" stroke-width="0.32" textLength="46.00" lengthAdjust="spacingAndGlyphs">Control IgG</text>
<text x="160.80" y="71.30" font-size="8.8" fill="#111" stroke="#111" stroke-width="0.32" textLength="35.60" lengthAdjust="spacingAndGlyphs">anti-KDR</text>
<text x="152.00" y="80.60" font-size="9.0" fill="#111" stroke="#111" stroke-width="0.32" textLength="52.50" lengthAdjust="spacingAndGlyphs">pretreatment</text>
<text x="263.40" y="39.50" font-size="8.7" fill="#111" stroke="#111" stroke-width="0.32" textLength="46.00" lengthAdjust="spacingAndGlyphs">Control IgG</text>
<text x="315.00" y="64.40" font-size="8.8" fill="#111" stroke="#111" stroke-width="0.32" textLength="35.60" lengthAdjust="spacingAndGlyphs">anti-KDR</text>
<text x="305.00" y="72.20" font-size="9.0" fill="#111" stroke="#111" stroke-width="0.32" textLength="52.50" lengthAdjust="spacingAndGlyphs">pretreatment</text>
<text x="111.60" y="172.80" font-size="8.7" fill="#111" stroke="#111" stroke-width="0.32" textLength="46.00" lengthAdjust="spacingAndGlyphs">Control IgG</text>
<text x="159.80" y="199.20" font-size="8.8" fill="#111" stroke="#111" stroke-width="0.32" textLength="35.60" lengthAdjust="spacingAndGlyphs">anti-KDR</text>
<text x="150.80" y="206.90" font-size="9.0" fill="#111" stroke="#111" stroke-width="0.32" textLength="52.50" lengthAdjust="spacingAndGlyphs">pretreatment</text>
<text x="259.30" y="166.30" font-size="8.7" fill="#111" stroke="#111" stroke-width="0.32" textLength="46.00" lengthAdjust="spacingAndGlyphs">Control IgG</text>
<text x="316.00" y="187.20" font-size="8.8" fill="#111" stroke="#111" stroke-width="0.32" textLength="35.60" lengthAdjust="spacingAndGlyphs">anti-KDR</text>
<text x="306.80" y="195.00" font-size="9.0" fill="#111" stroke="#111" stroke-width="0.32" textLength="52.50" lengthAdjust="spacingAndGlyphs">pretreatment</text>
<text x="143.00" y="265.30" font-size="10.3" font-weight="bold" text-anchor="middle" fill="#111" stroke="#111" stroke-width="0.32">Time (hrs)</text>
<text x="308.20" y="265.30" font-size="10.4" font-weight="bold" text-anchor="middle" fill="#111" stroke="#111" stroke-width="0.32">Time (hrs)</text>
<text x="437.60" y="13.70" font-size="9.0" text-anchor="middle" fill="#111" stroke="#111" stroke-width="0.32">Unactivated</text>
<text x="437.60" y="23.80" font-size="9.0" text-anchor="middle" fill="#111" stroke="#111" stroke-width="0.32">EC</text>
<text x="492.40" y="13.70" font-size="9.0" text-anchor="middle" fill="#111" stroke="#111" stroke-width="0.32">Activated</text>
<text x="492.60" y="23.80" font-size="9.0" text-anchor="middle" fill="#111" stroke="#111" stroke-width="0.32">EC</text>
<line x1="410.30" y1="27.50" x2="410.30" y2="118.70" stroke="#111" stroke-width="1.2" stroke-linecap="butt"/>
<line x1="409.70" y1="118.20" x2="519.50" y2="118.20" stroke="#111" stroke-width="1.2" stroke-linecap="butt"/>
<line x1="465.00" y1="28.00" x2="465.00" y2="118.20" stroke="#111" stroke-width="1.0" stroke-linecap="butt"/>
<line x1="519.00" y1="28.00" x2="519.00" y2="118.20" stroke="#111" stroke-width="1.0" stroke-linecap="butt"/>
<line x1="410.30" y1="28.00" x2="519.00" y2="28.00" stroke="#111" stroke-width="1.1" stroke-linecap="butt"/>
<line x1="420.50" y1="28.20" x2="519.00" y2="28.20" stroke="#111" stroke-width="1.9" stroke-linecap="butt"/>
<line x1="407.90" y1="28.00" x2="410.30" y2="28.00" stroke="#111" stroke-width="1.0" stroke-linecap="butt"/>
<text x="404.10" y="31.10" font-size="8.6" text-anchor="end" fill="#111" stroke="#111" stroke-width="0.32">0</text>
<line x1="407.90" y1="50.55" x2="410.30" y2="50.55" stroke="#111" stroke-width="1.0" stroke-linecap="butt"/>
<text x="404.10" y="53.65" font-size="8.6" text-anchor="end" fill="#111" stroke="#111" stroke-width="0.32">5</text>
<line x1="407.90" y1="73.10" x2="410.30" y2="73.10" stroke="#111" stroke-width="1.0" stroke-linecap="butt"/>
<text x="404.10" y="76.20" font-size="8.6" text-anchor="end" fill="#111" stroke="#111" stroke-width="0.32">10</text>
<line x1="407.90" y1="95.65" x2="410.30" y2="95.65" stroke="#111" stroke-width="1.0" stroke-linecap="butt"/>
<text x="404.10" y="98.75" font-size="8.6" text-anchor="end" fill="#111" stroke="#111" stroke-width="0.32">15</text>
<rect x="413.00" y="28.00" width="7.50" height="40.82" fill="#fff" stroke="#000" stroke-width="1.15"/>
<line x1="416.75" y1="68.82" x2="416.75" y2="78.29" stroke="#111" stroke-width="0.9" stroke-linecap="butt"/>
<line x1="414.45" y1="78.29" x2="419.05" y2="78.29" stroke="#111" stroke-width="1.0" stroke-linecap="butt"/>
<text x="416.75" y="86.99" font-size="8.8" font-weight="bold" text-anchor="middle" fill="#111" stroke="#111" stroke-width="0.15">**</text>
<rect x="427.00" y="28.00" width="7.50" height="40.82" fill="#fff" stroke="#000" stroke-width="1.15"/>
<line x1="430.75" y1="68.82" x2="430.75" y2="78.06" stroke="#111" stroke-width="0.9" stroke-linecap="butt"/>
<line x1="428.45" y1="78.06" x2="433.05" y2="78.06" stroke="#111" stroke-width="1.0" stroke-linecap="butt"/>
<text x="430.75" y="86.76" font-size="8.8" font-weight="bold" text-anchor="middle" fill="#111" stroke="#111" stroke-width="0.15">**</text>
<rect x="440.40" y="28.00" width="7.50" height="40.14" fill="#fff" stroke="#000" stroke-width="1.15"/>
<line x1="444.15" y1="68.14" x2="444.15" y2="76.71" stroke="#111" stroke-width="0.9" stroke-linecap="butt"/>
<line x1="441.85" y1="76.71" x2="446.45" y2="76.71" stroke="#111" stroke-width="1.0" stroke-linecap="butt"/>
<text x="444.15" y="85.41" font-size="8.8" font-weight="bold" text-anchor="middle" fill="#111" stroke="#111" stroke-width="0.15">**</text>
<rect x="454.20" y="28.00" width="7.50" height="41.94" fill="#fff" stroke="#000" stroke-width="1.15"/>
<line x1="457.95" y1="69.94" x2="457.95" y2="79.86" stroke="#111" stroke-width="0.9" stroke-linecap="butt"/>
<line x1="455.65" y1="79.86" x2="460.25" y2="79.86" stroke="#111" stroke-width="1.0" stroke-linecap="butt"/>
<text x="457.95" y="88.56" font-size="8.8" font-weight="bold" text-anchor="middle" fill="#111" stroke="#111" stroke-width="0.15">**</text>
<rect x="467.50" y="28.00" width="7.50" height="43.52" fill="#0a0a0a"/>
<line x1="471.25" y1="71.52" x2="471.25" y2="80.77" stroke="#111" stroke-width="0.9" stroke-linecap="butt"/>
<line x1="468.95" y1="80.77" x2="473.55" y2="80.77" stroke="#111" stroke-width="1.0" stroke-linecap="butt"/>
<text x="471.25" y="89.47" font-size="8.8" font-weight="bold" text-anchor="middle" fill="#111" stroke="#111" stroke-width="0.15">**</text>
<rect x="481.10" y="28.00" width="7.50" height="45.55" fill="#0a0a0a"/>
<line x1="484.85" y1="73.55" x2="484.85" y2="80.32" stroke="#111" stroke-width="0.9" stroke-linecap="butt"/>
<line x1="482.55" y1="80.32" x2="487.15" y2="80.32" stroke="#111" stroke-width="1.0" stroke-linecap="butt"/>
<text x="484.85" y="89.02" font-size="8.8" font-weight="bold" text-anchor="middle" fill="#111" stroke="#111" stroke-width="0.15">**</text>
<rect x="494.40" y="28.00" width="7.50" height="45.10" fill="#0a0a0a"/>
<line x1="498.15" y1="73.10" x2="498.15" y2="79.86" stroke="#111" stroke-width="0.9" stroke-linecap="butt"/>
<line x1="495.85" y1="79.86" x2="500.45" y2="79.86" stroke="#111" stroke-width="1.0" stroke-linecap="butt"/>
<text x="498.15" y="88.56" font-size="8.8" font-weight="bold" text-anchor="middle" fill="#111" stroke="#111" stroke-width="0.15">**</text>
<rect x="507.80" y="28.00" width="7.50" height="44.65" fill="#0a0a0a"/>
<line x1="511.55" y1="72.65" x2="511.55" y2="81.89" stroke="#111" stroke-width="0.9" stroke-linecap="butt"/>
<line x1="509.25" y1="81.89" x2="513.85" y2="81.89" stroke="#111" stroke-width="1.0" stroke-linecap="butt"/>
<text x="511.55" y="90.59" font-size="8.8" font-weight="bold" text-anchor="middle" fill="#111" stroke="#111" stroke-width="0.15">**</text>
<text x="415.80" y="112.80" font-size="8.7" fill="#111" stroke="#111" stroke-width="0.32">n=5</text>
<text x="466.40" y="103.80" font-size="8.0" fill="#111" stroke="#111" stroke-width="0.32" textLength="45.50" lengthAdjust="spacingAndGlyphs"><tspan font-weight="bold">**</tspan>all <tspan font-style="italic">P</tspan> &lt; .05</text>
<text x="467.60" y="114.00" font-size="8.0" fill="#111" stroke="#111" stroke-width="0.32" textLength="49.00" lengthAdjust="spacingAndGlyphs">vs. Control Ig</text>
<text x="418.00" y="126.70" font-size="8.2" text-anchor="middle" fill="#111" stroke="#111" stroke-width="0.32">2</text>
<text x="430.50" y="126.70" font-size="8.2" text-anchor="middle" fill="#111" stroke="#111" stroke-width="0.32">4</text>
<text x="444.00" y="126.70" font-size="8.2" text-anchor="middle" fill="#111" stroke="#111" stroke-width="0.32">8</text>
<text x="457.60" y="126.70" font-size="8.2" text-anchor="middle" fill="#111" stroke="#111" stroke-width="0.32">12</text>
<text x="470.60" y="126.70" font-size="8.2" text-anchor="middle" fill="#111" stroke="#111" stroke-width="0.32">0</text>
<text x="483.80" y="126.70" font-size="8.2" text-anchor="middle" fill="#111" stroke="#111" stroke-width="0.32">4</text>
<text x="496.80" y="126.70" font-size="8.2" text-anchor="middle" fill="#111" stroke="#111" stroke-width="0.32">8</text>
<text x="510.60" y="126.70" font-size="8.2" text-anchor="middle" fill="#111" stroke="#111" stroke-width="0.32">12</text>
<text x="382.20" y="69.20" font-size="8.9" text-anchor="middle" fill="#222" stroke="#222" stroke-width="0.32" transform="rotate(-90 382.20 69.20)">% inhibition by anti-KDR</text>
<text x="392.80" y="73.30" font-size="9.0" text-anchor="middle" fill="#222" stroke="#222" stroke-width="0.32" transform="rotate(-90 392.80 73.30)">Pretreatment</text>
<line x1="410.30" y1="156.60" x2="410.30" y2="247.50" stroke="#111" stroke-width="1.2" stroke-linecap="butt"/>
<line x1="409.70" y1="247.00" x2="519.50" y2="247.00" stroke="#111" stroke-width="1.2" stroke-linecap="butt"/>
<line x1="465.00" y1="157.10" x2="465.00" y2="247.00" stroke="#111" stroke-width="1.0" stroke-linecap="butt"/>
<line x1="519.00" y1="157.10" x2="519.00" y2="247.00" stroke="#111" stroke-width="1.0" stroke-linecap="butt"/>
<line x1="410.30" y1="157.10" x2="519.00" y2="157.10" stroke="#111" stroke-width="1.1" stroke-linecap="butt"/>
<line x1="420.50" y1="157.30" x2="519.00" y2="157.30" stroke="#111" stroke-width="1.9" stroke-linecap="butt"/>
<line x1="407.90" y1="157.10" x2="410.30" y2="157.10" stroke="#111" stroke-width="1.0" stroke-linecap="butt"/>
<text x="404.10" y="160.20" font-size="8.6" text-anchor="end" fill="#111" stroke="#111" stroke-width="0.32">0</text>
<line x1="407.90" y1="179.57" x2="410.30" y2="179.57" stroke="#111" stroke-width="1.0" stroke-linecap="butt"/>
<text x="404.10" y="182.67" font-size="8.6" text-anchor="end" fill="#111" stroke="#111" stroke-width="0.32">5</text>
<line x1="407.90" y1="202.05" x2="410.30" y2="202.05" stroke="#111" stroke-width="1.0" stroke-linecap="butt"/>
<text x="404.10" y="205.15" font-size="8.6" text-anchor="end" fill="#111" stroke="#111" stroke-width="0.32">10</text>
<line x1="407.90" y1="224.52" x2="410.30" y2="224.52" stroke="#111" stroke-width="1.0" stroke-linecap="butt"/>
<text x="404.10" y="227.62" font-size="8.6" text-anchor="end" fill="#111" stroke="#111" stroke-width="0.32">15</text>
<rect x="413.00" y="157.10" width="7.50" height="39.56" fill="#fff" stroke="#000" stroke-width="1.15"/>
<line x1="416.75" y1="196.66" x2="416.75" y2="210.82" stroke="#111" stroke-width="0.9" stroke-linecap="butt"/>
<line x1="414.45" y1="210.82" x2="419.05" y2="210.82" stroke="#111" stroke-width="1.0" stroke-linecap="butt"/>
<text x="416.75" y="218.42" font-size="8.8" font-weight="bold" text-anchor="middle" fill="#111" stroke="#111" stroke-width="0.15">**</text>
<rect x="427.00" y="157.10" width="7.50" height="40.23" fill="#fff" stroke="#000" stroke-width="1.15"/>
<line x1="430.75" y1="197.33" x2="430.75" y2="206.99" stroke="#111" stroke-width="0.9" stroke-linecap="butt"/>
<line x1="428.45" y1="206.99" x2="433.05" y2="206.99" stroke="#111" stroke-width="1.0" stroke-linecap="butt"/>
<text x="430.75" y="214.59" font-size="8.8" font-weight="bold" text-anchor="middle" fill="#111" stroke="#111" stroke-width="0.15">**</text>
<rect x="440.40" y="157.10" width="7.50" height="39.56" fill="#fff" stroke="#000" stroke-width="1.15"/>
<line x1="444.15" y1="196.66" x2="444.15" y2="204.52" stroke="#111" stroke-width="0.9" stroke-linecap="butt"/>
<line x1="441.85" y1="204.52" x2="446.45" y2="204.52" stroke="#111" stroke-width="1.0" stroke-linecap="butt"/>
<text x="444.15" y="212.12" font-size="8.8" font-weight="bold" text-anchor="middle" fill="#111" stroke="#111" stroke-width="0.15">**</text>
<rect x="454.20" y="157.10" width="7.50" height="40.01" fill="#fff" stroke="#000" stroke-width="1.15"/>
<line x1="457.95" y1="197.11" x2="457.95" y2="204.52" stroke="#111" stroke-width="0.9" stroke-linecap="butt"/>
<line x1="455.65" y1="204.52" x2="460.25" y2="204.52" stroke="#111" stroke-width="1.0" stroke-linecap="butt"/>
<text x="457.95" y="212.12" font-size="8.8" font-weight="bold" text-anchor="middle" fill="#111" stroke="#111" stroke-width="0.15">**</text>
<rect x="467.50" y="157.10" width="7.50" height="40.90" fill="#0a0a0a"/>
<line x1="471.25" y1="198.00" x2="471.25" y2="209.92" stroke="#111" stroke-width="0.9" stroke-linecap="butt"/>
<line x1="468.95" y1="209.92" x2="473.55" y2="209.92" stroke="#111" stroke-width="1.0" stroke-linecap="butt"/>
<text x="471.25" y="217.52" font-size="8.8" font-weight="bold" text-anchor="middle" fill="#111" stroke="#111" stroke-width="0.15">**</text>
<rect x="481.10" y="157.10" width="7.50" height="40.23" fill="#0a0a0a"/>
<line x1="484.85" y1="197.33" x2="484.85" y2="206.99" stroke="#111" stroke-width="0.9" stroke-linecap="butt"/>
<line x1="482.55" y1="206.99" x2="487.15" y2="206.99" stroke="#111" stroke-width="1.0" stroke-linecap="butt"/>
<text x="484.85" y="214.59" font-size="8.8" font-weight="bold" text-anchor="middle" fill="#111" stroke="#111" stroke-width="0.15">**</text>
<rect x="494.40" y="157.10" width="7.50" height="40.23" fill="#0a0a0a"/>
<line x1="498.15" y1="197.33" x2="498.15" y2="204.52" stroke="#111" stroke-width="0.9" stroke-linecap="butt"/>
<line x1="495.85" y1="204.52" x2="500.45" y2="204.52" stroke="#111" stroke-width="1.0" stroke-linecap="butt"/>
<text x="498.15" y="212.12" font-size="8.8" font-weight="bold" text-anchor="middle" fill="#111" stroke="#111" stroke-width="0.15">**</text>
<rect x="507.80" y="157.10" width="7.50" height="40.45" fill="#0a0a0a"/>
<line x1="511.55" y1="197.56" x2="511.55" y2="203.62" stroke="#111" stroke-width="0.9" stroke-linecap="butt"/>
<line x1="509.25" y1="203.62" x2="513.85" y2="203.62" stroke="#111" stroke-width="1.0" stroke-linecap="butt"/>
<text x="511.55" y="211.22" font-size="8.8" font-weight="bold" text-anchor="middle" fill="#111" stroke="#111" stroke-width="0.15">**</text>
<text x="415.80" y="241.60" font-size="8.7" fill="#111" stroke="#111" stroke-width="0.32">n=5</text>
<text x="466.40" y="232.60" font-size="8.0" fill="#111" stroke="#111" stroke-width="0.32" textLength="45.50" lengthAdjust="spacingAndGlyphs"><tspan font-weight="bold">**</tspan>all <tspan font-style="italic">P</tspan> &lt; .05</text>
<text x="467.60" y="242.80" font-size="8.0" fill="#111" stroke="#111" stroke-width="0.32" textLength="49.00" lengthAdjust="spacingAndGlyphs">vs. Control Ig</text>
<text x="416.40" y="255.50" font-size="8.2" text-anchor="middle" fill="#111" stroke="#111" stroke-width="0.32">2</text>
<text x="428.90" y="255.50" font-size="8.2" text-anchor="middle" fill="#111" stroke="#111" stroke-width="0.32">4</text>
<text x="442.80" y="255.50" font-size="8.2" text-anchor="middle" fill="#111" stroke="#111" stroke-width="0.32">8</text>
<text x="455.60" y="255.50" font-size="8.2" text-anchor="middle" fill="#111" stroke="#111" stroke-width="0.32">12</text>
<text x="471.00" y="255.50" font-size="8.2" text-anchor="middle" fill="#111" stroke="#111" stroke-width="0.32">0</text>
<text x="483.80" y="255.50" font-size="8.2" text-anchor="middle" fill="#111" stroke="#111" stroke-width="0.32">4</text>
<text x="496.80" y="255.50" font-size="8.2" text-anchor="middle" fill="#111" stroke="#111" stroke-width="0.32">8</text>
<text x="510.60" y="255.50" font-size="8.2" text-anchor="middle" fill="#111" stroke="#111" stroke-width="0.32">12</text>
<text x="382.20" y="198.15" font-size="8.9" text-anchor="middle" fill="#222" stroke="#222" stroke-width="0.32" transform="rotate(-90 382.20 198.15)">% inhibition by anti-KDR</text>
<text x="392.80" y="202.25" font-size="9.0" text-anchor="middle" fill="#222" stroke="#222" stroke-width="0.32" transform="rotate(-90 392.80 202.25)">Pretreatment</text>
<text x="463.50" y="271.60" font-size="8.95" font-weight="bold" text-anchor="middle" fill="#111" stroke="#111" stroke-width="0.32">Time (hrs)</text>
<text x="0.60" y="305.80" font-size="17.0" font-weight="bold" fill="#111" stroke="#111" stroke-width="0.32">B</text>
<text x="107.00" y="305.00" font-size="8.8" fill="#111" stroke="#111" stroke-width="0.32" textLength="62.00" lengthAdjust="spacingAndGlyphs">Unactivated EC</text>
<text x="265.40" y="305.30" font-size="8.8" fill="#111" stroke="#111" stroke-width="0.32" textLength="76.00" lengthAdjust="spacingAndGlyphs">TNFα-activated EC</text>
<text x="24.20" y="349.30" font-size="10.45" font-weight="bold" text-anchor="middle" fill="#111" stroke="#111" stroke-width="0.32">Activated</text>
<text x="24.20" y="362.30" font-size="10.45" font-weight="bold" text-anchor="middle" fill="#111" stroke="#111" stroke-width="0.32">CD4+</text>
<text x="24.20" y="375.30" font-size="10.45" font-weight="bold" text-anchor="middle" fill="#111" stroke="#111" stroke-width="0.32">T Cells</text>
<text x="26.60" y="452.60" font-size="10.45" font-weight="bold" text-anchor="middle" fill="#111" stroke="#111" stroke-width="0.32">Activated</text>
<text x="26.60" y="465.60" font-size="10.45" font-weight="bold" text-anchor="middle" fill="#111" stroke="#111" stroke-width="0.32">CD8+</text>
<text x="26.60" y="478.60" font-size="10.45" font-weight="bold" text-anchor="middle" fill="#111" stroke="#111" stroke-width="0.32">T cells</text>
<line x1="82.50" y1="316.20" x2="82.50" y2="399.77" stroke="#2a2a2a" stroke-width="1.15" stroke-linecap="butt"/>
<line x1="81.92" y1="399.20" x2="188.90" y2="399.20" stroke="#2a2a2a" stroke-width="1.15" stroke-linecap="butt"/>
<text x="79.90" y="401.50" font-size="6.4" font-weight="bold" text-anchor="end" fill="#111" stroke="#111" stroke-width="0.32">0</text>
<line x1="80.30" y1="390.04" x2="82.50" y2="390.04" stroke="#111" stroke-width="1.0" stroke-linecap="butt"/>
<text x="79.90" y="392.35" font-size="6.4" font-weight="bold" text-anchor="end" fill="#111" stroke="#111" stroke-width="0.32">5</text>
<line x1="80.30" y1="380.89" x2="82.50" y2="380.89" stroke="#111" stroke-width="1.0" stroke-linecap="butt"/>
<text x="79.90" y="383.19" font-size="6.4" font-weight="bold" text-anchor="end" fill="#111" stroke="#111" stroke-width="0.32">10</text>
<line x1="80.30" y1="371.73" x2="82.50" y2="371.73" stroke="#111" stroke-width="1.0" stroke-linecap="butt"/>
<text x="79.90" y="374.04" font-size="6.4" font-weight="bold" text-anchor="end" fill="#111" stroke="#111" stroke-width="0.32">15</text>
<line x1="80.30" y1="362.58" x2="82.50" y2="362.58" stroke="#111" stroke-width="1.0" stroke-linecap="butt"/>
<text x="79.90" y="364.88" font-size="6.4" font-weight="bold" text-anchor="end" fill="#111" stroke="#111" stroke-width="0.32">20</text>
<line x1="80.30" y1="353.42" x2="82.50" y2="353.42" stroke="#111" stroke-width="1.0" stroke-linecap="butt"/>
<text x="79.90" y="355.73" font-size="6.4" font-weight="bold" text-anchor="end" fill="#111" stroke="#111" stroke-width="0.32">25</text>
<line x1="80.30" y1="344.27" x2="82.50" y2="344.27" stroke="#111" stroke-width="1.0" stroke-linecap="butt"/>
<text x="79.90" y="346.57" font-size="6.4" font-weight="bold" text-anchor="end" fill="#111" stroke="#111" stroke-width="0.32">30</text>
<line x1="80.30" y1="335.11" x2="82.50" y2="335.11" stroke="#111" stroke-width="1.0" stroke-linecap="butt"/>
<text x="79.90" y="337.42" font-size="6.4" font-weight="bold" text-anchor="end" fill="#111" stroke="#111" stroke-width="0.32">35</text>
<line x1="80.30" y1="325.96" x2="82.50" y2="325.96" stroke="#111" stroke-width="1.0" stroke-linecap="butt"/>
<text x="79.90" y="328.26" font-size="6.4" font-weight="bold" text-anchor="end" fill="#111" stroke="#111" stroke-width="0.32">40</text>
<line x1="80.30" y1="316.80" x2="82.50" y2="316.80" stroke="#111" stroke-width="1.0" stroke-linecap="butt"/>
<text x="79.90" y="319.10" font-size="6.4" font-weight="bold" text-anchor="end" fill="#111" stroke="#111" stroke-width="0.32">45</text>
<line x1="82.50" y1="399.20" x2="82.50" y2="401.20" stroke="#111" stroke-width="1.0" stroke-linecap="butt"/>
<text x="82.50" y="407.60" font-size="6.4" font-weight="bold" text-anchor="middle" fill="#111" stroke="#111" stroke-width="0.32">0</text>
<line x1="100.07" y1="399.20" x2="100.07" y2="401.20" stroke="#111" stroke-width="1.0" stroke-linecap="butt"/>
<text x="100.07" y="407.60" font-size="6.4" font-weight="bold" text-anchor="middle" fill="#111" stroke="#111" stroke-width="0.32">2</text>
<line x1="117.63" y1="399.20" x2="117.63" y2="401.20" stroke="#111" stroke-width="1.0" stroke-linecap="butt"/>
<text x="117.63" y="407.60" font-size="6.4" font-weight="bold" text-anchor="middle" fill="#111" stroke="#111" stroke-width="0.32">4</text>
<line x1="135.20" y1="399.20" x2="135.20" y2="401.20" stroke="#111" stroke-width="1.0" stroke-linecap="butt"/>
<text x="135.20" y="407.60" font-size="6.4" font-weight="bold" text-anchor="middle" fill="#111" stroke="#111" stroke-width="0.32">6</text>
<line x1="152.77" y1="399.20" x2="152.77" y2="401.20" stroke="#111" stroke-width="1.0" stroke-linecap="butt"/>
<text x="152.77" y="407.60" font-size="6.4" font-weight="bold" text-anchor="middle" fill="#111" stroke="#111" stroke-width="0.32">8</text>
<line x1="170.33" y1="399.20" x2="170.33" y2="401.20" stroke="#111" stroke-width="1.0" stroke-linecap="butt"/>
<text x="170.33" y="407.60" font-size="6.4" font-weight="bold" text-anchor="middle" fill="#111" stroke="#111" stroke-width="0.32">10</text>
<line x1="187.90" y1="399.20" x2="187.90" y2="401.20" stroke="#111" stroke-width="1.0" stroke-linecap="butt"/>
<text x="187.90" y="407.60" font-size="6.4" font-weight="bold" text-anchor="middle" fill="#111" stroke="#111" stroke-width="0.32">12</text>
<rect x="81.24" y="398.49" width="2.52" height="1.43" fill="#fff" stroke="#000" stroke-width="1.05"/><rect x="84.37" y="394.48" width="2.52" height="1.43" fill="#fff" stroke="#000" stroke-width="1.05"/><rect x="86.51" y="392.51" width="2.52" height="1.43" fill="#fff" stroke="#000" stroke-width="1.05"/><rect x="89.53" y="392.59" width="2.52" height="1.43" fill="#fff" stroke="#000" stroke-width="1.05"/><rect x="91.54" y="391.52" width="2.52" height="1.43" fill="#fff" stroke="#000" stroke-width="1.05"/><rect x="94.31" y="389.50" width="2.52" height="1.43" fill="#fff" stroke="#000" stroke-width="1.05"/><rect x="97.53" y="384.21" width="2.52" height="1.43" fill="#fff" stroke="#000" stroke-width="1.05"/><rect x="100.08" y="382.95" width="2.52" height="1.43" fill="#fff" stroke="#000" stroke-width="1.05"/><rect x="105.18" y="376.81" width="2.52" height="1.43" fill="#fff" stroke="#000" stroke-width="1.05"/><rect x="107.56" y="375.45" width="2.52" height="1.43" fill="#fff" stroke="#000" stroke-width="1.05"/><rect x="112.75" y="369.90" width="2.52" height="1.43" fill="#fff" stroke="#000" stroke-width="1.05"/><rect x="115.84" y="367.14" width="2.52" height="1.43" fill="#fff" stroke="#000" stroke-width="1.05"/><rect x="120.50" y="365.39" width="2.52" height="1.43" fill="#fff" stroke="#000" stroke-width="1.05"/><rect x="123.04" y="362.87" width="2.52" height="1.43" fill="#fff" stroke="#000" stroke-width="1.05"/><rect x="129.14" y="359.06" width="2.52" height="1.43" fill="#fff" stroke="#000" stroke-width="1.05"/><rect x="131.46" y="357.81" width="2.52" height="1.43" fill="#fff" stroke="#000" stroke-width="1.05"/><rect x="136.63" y="356.97" width="2.52" height="1.43" fill="#fff" stroke="#000" stroke-width="1.05"/><rect x="139.51" y="355.44" width="2.52" height="1.43" fill="#fff" stroke="#000" stroke-width="1.05"/><rect x="144.63" y="353.22" width="2.52" height="1.43" fill="#fff" stroke="#000" stroke-width="1.05"/><rect x="146.72" y="352.46" width="2.52" height="1.43" fill="#fff" stroke="#000" stroke-width="1.05"/><rect x="152.59" y="350.49" width="2.52" height="1.43" fill="#fff" stroke="#000" stroke-width="1.05"/><rect x="154.57" y="349.21" width="2.52" height="1.43" fill="#fff" stroke="#000" stroke-width="1.05"/><rect x="160.17" y="348.53" width="2.52" height="1.43" fill="#fff" stroke="#000" stroke-width="1.05"/><rect x="163.03" y="348.19" width="2.52" height="1.43" fill="#fff" stroke="#000" stroke-width="1.05"/><rect x="168.15" y="344.89" width="2.52" height="1.43" fill="#fff" stroke="#000" stroke-width="1.05"/><rect x="170.98" y="344.48" width="2.52" height="1.43" fill="#fff" stroke="#000" stroke-width="1.05"/><rect x="175.82" y="344.95" width="2.52" height="1.43" fill="#fff" stroke="#000" stroke-width="1.05"/><rect x="179.22" y="343.46" width="2.52" height="1.43" fill="#fff" stroke="#000" stroke-width="1.05"/><rect x="183.50" y="343.16" width="2.52" height="1.43" fill="#fff" stroke="#000" stroke-width="1.05"/><rect x="186.64" y="342.80" width="2.52" height="1.43" fill="#fff" stroke="#000" stroke-width="1.05"/><rect x="80.61" y="396.75" width="3.78" height="3.50" rx="0.9" fill="#050505"/><rect x="83.69" y="393.27" width="3.78" height="3.50" rx="0.9" fill="#050505"/><rect x="85.39" y="392.19" width="3.78" height="3.50" rx="0.9" fill="#050505"/><rect x="88.43" y="390.73" width="3.78" height="3.50" rx="0.9" fill="#050505"/><rect x="90.83" y="389.42" width="3.78" height="3.50" rx="0.9" fill="#050505"/><rect x="94.04" y="387.93" width="3.78" height="3.50" rx="0.9" fill="#050505"/><rect x="96.11" y="384.05" width="3.78" height="3.50" rx="0.9" fill="#050505"/><rect x="98.86" y="380.77" width="3.78" height="3.50" rx="0.9" fill="#050505"/><rect x="101.41" y="379.53" width="3.78" height="3.50" rx="0.9" fill="#050505"/><rect x="104.60" y="376.49" width="3.78" height="3.50" rx="0.9" fill="#050505"/><rect x="107.44" y="373.27" width="3.78" height="3.50" rx="0.9" fill="#050505"/><rect x="109.27" y="370.92" width="3.78" height="3.50" rx="0.9" fill="#050505"/><rect x="112.14" y="365.70" width="3.78" height="3.50" rx="0.9" fill="#050505"/><rect x="115.34" y="362.61" width="3.78" height="3.50" rx="0.9" fill="#050505"/><rect x="117.39" y="360.69" width="3.78" height="3.50" rx="0.9" fill="#050505"/><rect x="120.63" y="358.33" width="3.78" height="3.50" rx="0.9" fill="#050505"/><rect x="122.30" y="357.21" width="3.78" height="3.50" rx="0.9" fill="#050505"/><rect x="125.29" y="353.38" width="3.78" height="3.50" rx="0.9" fill="#050505"/><rect x="128.44" y="352.01" width="3.78" height="3.50" rx="0.9" fill="#050505"/><rect x="131.20" y="350.12" width="3.78" height="3.50" rx="0.9" fill="#050505"/><rect x="133.13" y="350.57" width="3.78" height="3.50" rx="0.9" fill="#050505"/><rect x="136.40" y="348.51" width="3.78" height="3.50" rx="0.9" fill="#050505"/><rect x="138.09" y="348.22" width="3.78" height="3.50" rx="0.9" fill="#050505"/><rect x="141.09" y="347.99" width="3.78" height="3.50" rx="0.9" fill="#050505"/><rect x="143.67" y="347.17" width="3.78" height="3.50" rx="0.9" fill="#050505"/><rect x="145.96" y="345.57" width="3.78" height="3.50" rx="0.9" fill="#050505"/><rect x="148.96" y="342.39" width="3.78" height="3.50" rx="0.9" fill="#050505"/><rect x="151.36" y="341.16" width="3.78" height="3.50" rx="0.9" fill="#050505"/><rect x="154.08" y="342.04" width="3.78" height="3.50" rx="0.9" fill="#050505"/><rect x="157.36" y="340.69" width="3.78" height="3.50" rx="0.9" fill="#050505"/><rect x="159.59" y="341.97" width="3.78" height="3.50" rx="0.9" fill="#050505"/><rect x="162.27" y="340.00" width="3.78" height="3.50" rx="0.9" fill="#050505"/><rect x="165.37" y="338.81" width="3.78" height="3.50" rx="0.9" fill="#050505"/><rect x="167.42" y="336.37" width="3.78" height="3.50" rx="0.9" fill="#050505"/><rect x="169.70" y="336.73" width="3.78" height="3.50" rx="0.9" fill="#050505"/><rect x="173.16" y="335.73" width="3.78" height="3.50" rx="0.9" fill="#050505"/><rect x="174.99" y="337.05" width="3.78" height="3.50" rx="0.9" fill="#050505"/><rect x="177.64" y="335.04" width="3.78" height="3.50" rx="0.9" fill="#050505"/><rect x="180.48" y="335.09" width="3.78" height="3.50" rx="0.9" fill="#050505"/><rect x="183.80" y="335.56" width="3.78" height="3.50" rx="0.9" fill="#050505"/><rect x="185.77" y="334.11" width="3.78" height="3.50" rx="0.9" fill="#050505"/>
<text x="63.90" y="358.80" font-size="9.0" text-anchor="middle" fill="#333" stroke="#333" stroke-width="0.32" transform="rotate(-90 63.90 358.80)">% transmigration</text>
<line x1="82.90" y1="420.20" x2="82.90" y2="503.57" stroke="#2a2a2a" stroke-width="1.15" stroke-linecap="butt"/>
<line x1="82.33" y1="503.00" x2="188.70" y2="503.00" stroke="#2a2a2a" stroke-width="1.15" stroke-linecap="butt"/>
<text x="80.30" y="505.30" font-size="6.4" font-weight="bold" text-anchor="end" fill="#111" stroke="#111" stroke-width="0.32">0</text>
<line x1="80.70" y1="493.87" x2="82.90" y2="493.87" stroke="#111" stroke-width="1.0" stroke-linecap="butt"/>
<text x="80.30" y="496.17" font-size="6.4" font-weight="bold" text-anchor="end" fill="#111" stroke="#111" stroke-width="0.32">5</text>
<line x1="80.70" y1="484.73" x2="82.90" y2="484.73" stroke="#111" stroke-width="1.0" stroke-linecap="butt"/>
<text x="80.30" y="487.04" font-size="6.4" font-weight="bold" text-anchor="end" fill="#111" stroke="#111" stroke-width="0.32">10</text>
<line x1="80.70" y1="475.60" x2="82.90" y2="475.60" stroke="#111" stroke-width="1.0" stroke-linecap="butt"/>
<text x="80.30" y="477.90" font-size="6.4" font-weight="bold" text-anchor="end" fill="#111" stroke="#111" stroke-width="0.32">15</text>
<line x1="80.70" y1="466.47" x2="82.90" y2="466.47" stroke="#111" stroke-width="1.0" stroke-linecap="butt"/>
<text x="80.30" y="468.77" font-size="6.4" font-weight="bold" text-anchor="end" fill="#111" stroke="#111" stroke-width="0.32">20</text>
<line x1="80.70" y1="457.33" x2="82.90" y2="457.33" stroke="#111" stroke-width="1.0" stroke-linecap="butt"/>
<text x="80.30" y="459.64" font-size="6.4" font-weight="bold" text-anchor="end" fill="#111" stroke="#111" stroke-width="0.32">25</text>
<line x1="80.70" y1="448.20" x2="82.90" y2="448.20" stroke="#111" stroke-width="1.0" stroke-linecap="butt"/>
<text x="80.30" y="450.50" font-size="6.4" font-weight="bold" text-anchor="end" fill="#111" stroke="#111" stroke-width="0.32">30</text>
<line x1="80.70" y1="439.07" x2="82.90" y2="439.07" stroke="#111" stroke-width="1.0" stroke-linecap="butt"/>
<text x="80.30" y="441.37" font-size="6.4" font-weight="bold" text-anchor="end" fill="#111" stroke="#111" stroke-width="0.32">35</text>
<line x1="80.70" y1="429.93" x2="82.90" y2="429.93" stroke="#111" stroke-width="1.0" stroke-linecap="butt"/>
<text x="80.30" y="432.24" font-size="6.4" font-weight="bold" text-anchor="end" fill="#111" stroke="#111" stroke-width="0.32">40</text>
<line x1="80.70" y1="420.80" x2="82.90" y2="420.80" stroke="#111" stroke-width="1.0" stroke-linecap="butt"/>
<text x="80.30" y="423.10" font-size="6.4" font-weight="bold" text-anchor="end" fill="#111" stroke="#111" stroke-width="0.32">45</text>
<line x1="82.90" y1="503.00" x2="82.90" y2="505.00" stroke="#111" stroke-width="1.0" stroke-linecap="butt"/>
<text x="82.90" y="511.40" font-size="6.4" font-weight="bold" text-anchor="middle" fill="#111" stroke="#111" stroke-width="0.32">0</text>
<line x1="100.37" y1="503.00" x2="100.37" y2="505.00" stroke="#111" stroke-width="1.0" stroke-linecap="butt"/>
<text x="100.37" y="511.40" font-size="6.4" font-weight="bold" text-anchor="middle" fill="#111" stroke="#111" stroke-width="0.32">2</text>
<line x1="117.83" y1="503.00" x2="117.83" y2="505.00" stroke="#111" stroke-width="1.0" stroke-linecap="butt"/>
<text x="117.83" y="511.40" font-size="6.4" font-weight="bold" text-anchor="middle" fill="#111" stroke="#111" stroke-width="0.32">4</text>
<line x1="135.30" y1="503.00" x2="135.30" y2="505.00" stroke="#111" stroke-width="1.0" stroke-linecap="butt"/>
<text x="135.30" y="511.40" font-size="6.4" font-weight="bold" text-anchor="middle" fill="#111" stroke="#111" stroke-width="0.32">6</text>
<line x1="152.77" y1="503.00" x2="152.77" y2="505.00" stroke="#111" stroke-width="1.0" stroke-linecap="butt"/>
<text x="152.77" y="511.40" font-size="6.4" font-weight="bold" text-anchor="middle" fill="#111" stroke="#111" stroke-width="0.32">8</text>
<line x1="170.23" y1="503.00" x2="170.23" y2="505.00" stroke="#111" stroke-width="1.0" stroke-linecap="butt"/>
<text x="170.23" y="511.40" font-size="6.4" font-weight="bold" text-anchor="middle" fill="#111" stroke="#111" stroke-width="0.32">10</text>
<line x1="187.70" y1="503.00" x2="187.70" y2="505.00" stroke="#111" stroke-width="1.0" stroke-linecap="butt"/>
<text x="187.70" y="511.40" font-size="6.4" font-weight="bold" text-anchor="middle" fill="#111" stroke="#111" stroke-width="0.32">12</text>
<rect x="81.76" y="502.29" width="2.52" height="1.43" fill="#fff" stroke="#000" stroke-width="1.05"/><rect x="84.49" y="501.70" width="2.52" height="1.43" fill="#fff" stroke="#000" stroke-width="1.05"/><rect x="86.64" y="500.97" width="2.52" height="1.43" fill="#fff" stroke="#000" stroke-width="1.05"/><rect x="89.77" y="494.95" width="2.52" height="1.43" fill="#fff" stroke="#000" stroke-width="1.05"/><rect x="92.26" y="492.00" width="2.52" height="1.43" fill="#fff" stroke="#000" stroke-width="1.05"/><rect x="94.24" y="491.23" width="2.52" height="1.43" fill="#fff" stroke="#000" stroke-width="1.05"/><rect x="97.33" y="486.35" width="2.52" height="1.43" fill="#fff" stroke="#000" stroke-width="1.05"/><rect x="100.46" y="483.83" width="2.52" height="1.43" fill="#fff" stroke="#000" stroke-width="1.05"/><rect x="105.15" y="477.73" width="2.52" height="1.43" fill="#fff" stroke="#000" stroke-width="1.05"/><rect x="108.29" y="474.60" width="2.52" height="1.43" fill="#fff" stroke="#000" stroke-width="1.05"/><rect x="113.33" y="469.10" width="2.52" height="1.43" fill="#fff" stroke="#000" stroke-width="1.05"/><rect x="115.99" y="467.31" width="2.52" height="1.43" fill="#fff" stroke="#000" stroke-width="1.05"/><rect x="120.75" y="463.20" width="2.52" height="1.43" fill="#fff" stroke="#000" stroke-width="1.05"/><rect x="123.86" y="460.72" width="2.52" height="1.43" fill="#fff" stroke="#000" stroke-width="1.05"/><rect x="129.07" y="457.70" width="2.52" height="1.43" fill="#fff" stroke="#000" stroke-width="1.05"/><rect x="130.96" y="457.49" width="2.52" height="1.43" fill="#fff" stroke="#000" stroke-width="1.05"/><rect x="136.48" y="453.74" width="2.52" height="1.43" fill="#fff" stroke="#000" stroke-width="1.05"/><rect x="139.68" y="452.66" width="2.52" height="1.43" fill="#fff" stroke="#000" stroke-width="1.05"/><rect x="144.08" y="453.11" width="2.52" height="1.43" fill="#fff" stroke="#000" stroke-width="1.05"/><rect x="147.14" y="451.17" width="2.52" height="1.43" fill="#fff" stroke="#000" stroke-width="1.05"/><rect x="152.10" y="450.65" width="2.52" height="1.43" fill="#fff" stroke="#000" stroke-width="1.05"/><rect x="155.13" y="449.56" width="2.52" height="1.43" fill="#fff" stroke="#000" stroke-width="1.05"/><rect x="160.60" y="448.53" width="2.52" height="1.43" fill="#fff" stroke="#000" stroke-width="1.05"/><rect x="162.46" y="447.75" width="2.52" height="1.43" fill="#fff" stroke="#000" stroke-width="1.05"/><rect x="168.17" y="447.38" width="2.52" height="1.43" fill="#fff" stroke="#000" stroke-width="1.05"/><rect x="170.97" y="447.33" width="2.52" height="1.43" fill="#fff" stroke="#000" stroke-width="1.05"/><rect x="175.69" y="446.93" width="2.52" height="1.43" fill="#fff" stroke="#000" stroke-width="1.05"/><rect x="178.98" y="445.71" width="2.52" height="1.43" fill="#fff" stroke="#000" stroke-width="1.05"/><rect x="183.71" y="444.28" width="2.52" height="1.43" fill="#fff" stroke="#000" stroke-width="1.05"/><rect x="186.44" y="445.47" width="2.52" height="1.43" fill="#fff" stroke="#000" stroke-width="1.05"/><rect x="81.33" y="500.81" width="3.78" height="3.50" rx="0.9" fill="#050505"/><rect x="84.14" y="500.74" width="3.78" height="3.50" rx="0.9" fill="#050505"/><rect x="86.22" y="497.61" width="3.78" height="3.50" rx="0.9" fill="#050505"/><rect x="89.23" y="493.28" width="3.78" height="3.50" rx="0.9" fill="#050505"/><rect x="91.01" y="492.38" width="3.78" height="3.50" rx="0.9" fill="#050505"/><rect x="93.71" y="489.54" width="3.78" height="3.50" rx="0.9" fill="#050505"/><rect x="97.23" y="482.56" width="3.78" height="3.50" rx="0.9" fill="#050505"/><rect x="99.80" y="479.16" width="3.78" height="3.50" rx="0.9" fill="#050505"/><rect x="102.35" y="476.07" width="3.78" height="3.50" rx="0.9" fill="#050505"/><rect x="104.34" y="473.12" width="3.78" height="3.50" rx="0.9" fill="#050505"/><rect x="107.68" y="470.57" width="3.78" height="3.50" rx="0.9" fill="#050505"/><rect x="109.93" y="466.61" width="3.78" height="3.50" rx="0.9" fill="#050505"/><rect x="112.15" y="464.21" width="3.78" height="3.50" rx="0.9" fill="#050505"/><rect x="114.69" y="461.14" width="3.78" height="3.50" rx="0.9" fill="#050505"/><rect x="117.43" y="457.67" width="3.78" height="3.50" rx="0.9" fill="#050505"/><rect x="120.47" y="456.44" width="3.78" height="3.50" rx="0.9" fill="#050505"/><rect x="122.42" y="454.88" width="3.78" height="3.50" rx="0.9" fill="#050505"/><rect x="125.74" y="452.97" width="3.78" height="3.50" rx="0.9" fill="#050505"/><rect x="127.97" y="451.48" width="3.78" height="3.50" rx="0.9" fill="#050505"/><rect x="131.10" y="448.76" width="3.78" height="3.50" rx="0.9" fill="#050505"/><rect x="132.95" y="448.46" width="3.78" height="3.50" rx="0.9" fill="#050505"/><rect x="135.92" y="446.42" width="3.78" height="3.50" rx="0.9" fill="#050505"/><rect x="138.80" y="446.38" width="3.78" height="3.50" rx="0.9" fill="#050505"/><rect x="140.92" y="444.46" width="3.78" height="3.50" rx="0.9" fill="#050505"/><rect x="143.80" y="444.60" width="3.78" height="3.50" rx="0.9" fill="#050505"/><rect x="146.31" y="442.83" width="3.78" height="3.50" rx="0.9" fill="#050505"/><rect x="148.93" y="443.17" width="3.78" height="3.50" rx="0.9" fill="#050505"/><rect x="151.60" y="442.98" width="3.78" height="3.50" rx="0.9" fill="#050505"/><rect x="154.75" y="441.09" width="3.78" height="3.50" rx="0.9" fill="#050505"/><rect x="156.85" y="442.21" width="3.78" height="3.50" rx="0.9" fill="#050505"/><rect x="159.85" y="441.55" width="3.78" height="3.50" rx="0.9" fill="#050505"/><rect x="161.71" y="440.03" width="3.78" height="3.50" rx="0.9" fill="#050505"/><rect x="164.77" y="440.00" width="3.78" height="3.50" rx="0.9" fill="#050505"/><rect x="167.37" y="439.71" width="3.78" height="3.50" rx="0.9" fill="#050505"/><rect x="170.05" y="440.74" width="3.78" height="3.50" rx="0.9" fill="#050505"/><rect x="172.20" y="439.51" width="3.78" height="3.50" rx="0.9" fill="#050505"/><rect x="175.48" y="438.11" width="3.78" height="3.50" rx="0.9" fill="#050505"/><rect x="177.52" y="438.28" width="3.78" height="3.50" rx="0.9" fill="#050505"/><rect x="180.43" y="438.02" width="3.78" height="3.50" rx="0.9" fill="#050505"/><rect x="182.82" y="438.07" width="3.78" height="3.50" rx="0.9" fill="#050505"/><rect x="185.83" y="436.28" width="3.78" height="3.50" rx="0.9" fill="#050505"/>
<text x="65.80" y="461.00" font-size="9.0" text-anchor="middle" fill="#333" stroke="#333" stroke-width="0.32" transform="rotate(-90 65.80 461.00)">% transmigration</text>
<line x1="243.90" y1="315.70" x2="243.90" y2="398.27" stroke="#2a2a2a" stroke-width="1.15" stroke-linecap="butt"/>
<line x1="243.33" y1="397.70" x2="350.00" y2="397.70" stroke="#2a2a2a" stroke-width="1.15" stroke-linecap="butt"/>
<text x="241.30" y="400.00" font-size="6.4" font-weight="bold" text-anchor="end" fill="#111" stroke="#111" stroke-width="0.32">0</text>
<line x1="241.70" y1="388.66" x2="243.90" y2="388.66" stroke="#111" stroke-width="1.0" stroke-linecap="butt"/>
<text x="241.30" y="390.96" font-size="6.4" font-weight="bold" text-anchor="end" fill="#111" stroke="#111" stroke-width="0.32">5</text>
<line x1="241.70" y1="379.61" x2="243.90" y2="379.61" stroke="#111" stroke-width="1.0" stroke-linecap="butt"/>
<text x="241.30" y="381.92" font-size="6.4" font-weight="bold" text-anchor="end" fill="#111" stroke="#111" stroke-width="0.32">10</text>
<line x1="241.70" y1="370.57" x2="243.90" y2="370.57" stroke="#111" stroke-width="1.0" stroke-linecap="butt"/>
<text x="241.30" y="372.87" font-size="6.4" font-weight="bold" text-anchor="end" fill="#111" stroke="#111" stroke-width="0.32">15</text>
<line x1="241.70" y1="361.52" x2="243.90" y2="361.52" stroke="#111" stroke-width="1.0" stroke-linecap="butt"/>
<text x="241.30" y="363.83" font-size="6.4" font-weight="bold" text-anchor="end" fill="#111" stroke="#111" stroke-width="0.32">20</text>
<line x1="241.70" y1="352.48" x2="243.90" y2="352.48" stroke="#111" stroke-width="1.0" stroke-linecap="butt"/>
<text x="241.30" y="354.78" font-size="6.4" font-weight="bold" text-anchor="end" fill="#111" stroke="#111" stroke-width="0.32">25</text>
<line x1="241.70" y1="343.43" x2="243.90" y2="343.43" stroke="#111" stroke-width="1.0" stroke-linecap="butt"/>
<text x="241.30" y="345.74" font-size="6.4" font-weight="bold" text-anchor="end" fill="#111" stroke="#111" stroke-width="0.32">30</text>
<line x1="241.70" y1="334.39" x2="243.90" y2="334.39" stroke="#111" stroke-width="1.0" stroke-linecap="butt"/>
<text x="241.30" y="336.69" font-size="6.4" font-weight="bold" text-anchor="end" fill="#111" stroke="#111" stroke-width="0.32">35</text>
<line x1="241.70" y1="325.34" x2="243.90" y2="325.34" stroke="#111" stroke-width="1.0" stroke-linecap="butt"/>
<text x="241.30" y="327.65" font-size="6.4" font-weight="bold" text-anchor="end" fill="#111" stroke="#111" stroke-width="0.32">40</text>
<line x1="241.70" y1="316.30" x2="243.90" y2="316.30" stroke="#111" stroke-width="1.0" stroke-linecap="butt"/>
<text x="241.30" y="318.60" font-size="6.4" font-weight="bold" text-anchor="end" fill="#111" stroke="#111" stroke-width="0.32">45</text>
<line x1="243.90" y1="397.70" x2="243.90" y2="399.70" stroke="#111" stroke-width="1.0" stroke-linecap="butt"/>
<text x="243.90" y="406.10" font-size="6.4" font-weight="bold" text-anchor="middle" fill="#111" stroke="#111" stroke-width="0.32">0</text>
<line x1="261.42" y1="397.70" x2="261.42" y2="399.70" stroke="#111" stroke-width="1.0" stroke-linecap="butt"/>
<text x="261.42" y="406.10" font-size="6.4" font-weight="bold" text-anchor="middle" fill="#111" stroke="#111" stroke-width="0.32">2</text>
<line x1="278.93" y1="397.70" x2="278.93" y2="399.70" stroke="#111" stroke-width="1.0" stroke-linecap="butt"/>
<text x="278.93" y="406.10" font-size="6.4" font-weight="bold" text-anchor="middle" fill="#111" stroke="#111" stroke-width="0.32">4</text>
<line x1="296.45" y1="397.70" x2="296.45" y2="399.70" stroke="#111" stroke-width="1.0" stroke-linecap="butt"/>
<text x="296.45" y="406.10" font-size="6.4" font-weight="bold" text-anchor="middle" fill="#111" stroke="#111" stroke-width="0.32">6</text>
<line x1="313.97" y1="397.70" x2="313.97" y2="399.70" stroke="#111" stroke-width="1.0" stroke-linecap="butt"/>
<text x="313.97" y="406.10" font-size="6.4" font-weight="bold" text-anchor="middle" fill="#111" stroke="#111" stroke-width="0.32">8</text>
<line x1="331.48" y1="397.70" x2="331.48" y2="399.70" stroke="#111" stroke-width="1.0" stroke-linecap="butt"/>
<text x="331.48" y="406.10" font-size="6.4" font-weight="bold" text-anchor="middle" fill="#111" stroke="#111" stroke-width="0.32">10</text>
<line x1="349.00" y1="397.70" x2="349.00" y2="399.70" stroke="#111" stroke-width="1.0" stroke-linecap="butt"/>
<text x="349.00" y="406.10" font-size="6.4" font-weight="bold" text-anchor="middle" fill="#111" stroke="#111" stroke-width="0.32">12</text>
<rect x="242.64" y="395.20" width="2.52" height="1.43" fill="#fff" stroke="#000" stroke-width="1.05"/><rect x="245.59" y="390.35" width="2.52" height="1.43" fill="#fff" stroke="#000" stroke-width="1.05"/><rect x="247.58" y="389.62" width="2.52" height="1.43" fill="#fff" stroke="#000" stroke-width="1.05"/><rect x="250.99" y="384.84" width="2.52" height="1.43" fill="#fff" stroke="#000" stroke-width="1.05"/><rect x="253.13" y="384.47" width="2.52" height="1.43" fill="#fff" stroke="#000" stroke-width="1.05"/><rect x="256.23" y="380.55" width="2.52" height="1.43" fill="#fff" stroke="#000" stroke-width="1.05"/><rect x="258.83" y="377.34" width="2.52" height="1.43" fill="#fff" stroke="#000" stroke-width="1.05"/><rect x="261.37" y="375.95" width="2.52" height="1.43" fill="#fff" stroke="#000" stroke-width="1.05"/><rect x="266.00" y="372.03" width="2.52" height="1.43" fill="#fff" stroke="#000" stroke-width="1.05"/><rect x="269.28" y="368.84" width="2.52" height="1.43" fill="#fff" stroke="#000" stroke-width="1.05"/><rect x="273.87" y="367.52" width="2.52" height="1.43" fill="#fff" stroke="#000" stroke-width="1.05"/><rect x="276.82" y="366.15" width="2.52" height="1.43" fill="#fff" stroke="#000" stroke-width="1.05"/><rect x="281.79" y="363.70" width="2.52" height="1.43" fill="#fff" stroke="#000" stroke-width="1.05"/><rect x="285.10" y="363.97" width="2.52" height="1.43" fill="#fff" stroke="#000" stroke-width="1.05"/><rect x="290.21" y="361.28" width="2.52" height="1.43" fill="#fff" stroke="#000" stroke-width="1.05"/><rect x="292.92" y="359.49" width="2.52" height="1.43" fill="#fff" stroke="#000" stroke-width="1.05"/><rect x="297.87" y="355.07" width="2.52" height="1.43" fill="#fff" stroke="#000" stroke-width="1.05"/><rect x="300.24" y="353.67" width="2.52" height="1.43" fill="#fff" stroke="#000" stroke-width="1.05"/><rect x="305.62" y="349.71" width="2.52" height="1.43" fill="#fff" stroke="#000" stroke-width="1.05"/><rect x="308.27" y="349.10" width="2.52" height="1.43" fill="#fff" stroke="#000" stroke-width="1.05"/><rect x="313.71" y="347.06" width="2.52" height="1.43" fill="#fff" stroke="#000" stroke-width="1.05"/><rect x="315.93" y="346.05" width="2.52" height="1.43" fill="#fff" stroke="#000" stroke-width="1.05"/><rect x="321.42" y="346.08" width="2.52" height="1.43" fill="#fff" stroke="#000" stroke-width="1.05"/><rect x="324.06" y="345.95" width="2.52" height="1.43" fill="#fff" stroke="#000" stroke-width="1.05"/><rect x="329.27" y="345.44" width="2.52" height="1.43" fill="#fff" stroke="#000" stroke-width="1.05"/><rect x="331.91" y="344.37" width="2.52" height="1.43" fill="#fff" stroke="#000" stroke-width="1.05"/><rect x="337.37" y="344.77" width="2.52" height="1.43" fill="#fff" stroke="#000" stroke-width="1.05"/><rect x="340.10" y="343.25" width="2.52" height="1.43" fill="#fff" stroke="#000" stroke-width="1.05"/><rect x="344.64" y="343.80" width="2.52" height="1.43" fill="#fff" stroke="#000" stroke-width="1.05"/><rect x="347.61" y="342.91" width="2.52" height="1.43" fill="#fff" stroke="#000" stroke-width="1.05"/><rect x="242.01" y="393.43" width="3.78" height="3.50" rx="0.9" fill="#050505"/><rect x="245.16" y="389.13" width="3.78" height="3.50" rx="0.9" fill="#050505"/><rect x="247.60" y="387.07" width="3.78" height="3.50" rx="0.9" fill="#050505"/><rect x="250.40" y="383.35" width="3.78" height="3.50" rx="0.9" fill="#050505"/><rect x="253.00" y="379.42" width="3.78" height="3.50" rx="0.9" fill="#050505"/><rect x="254.80" y="377.53" width="3.78" height="3.50" rx="0.9" fill="#050505"/><rect x="258.23" y="374.86" width="3.78" height="3.50" rx="0.9" fill="#050505"/><rect x="260.25" y="371.14" width="3.78" height="3.50" rx="0.9" fill="#050505"/><rect x="262.67" y="368.20" width="3.78" height="3.50" rx="0.9" fill="#050505"/><rect x="265.42" y="365.35" width="3.78" height="3.50" rx="0.9" fill="#050505"/><rect x="267.91" y="363.25" width="3.78" height="3.50" rx="0.9" fill="#050505"/><rect x="271.35" y="360.45" width="3.78" height="3.50" rx="0.9" fill="#050505"/><rect x="273.29" y="357.98" width="3.78" height="3.50" rx="0.9" fill="#050505"/><rect x="275.98" y="356.30" width="3.78" height="3.50" rx="0.9" fill="#050505"/><rect x="278.46" y="353.61" width="3.78" height="3.50" rx="0.9" fill="#050505"/><rect x="281.88" y="349.19" width="3.78" height="3.50" rx="0.9" fill="#050505"/><rect x="284.47" y="347.65" width="3.78" height="3.50" rx="0.9" fill="#050505"/><rect x="286.98" y="345.26" width="3.78" height="3.50" rx="0.9" fill="#050505"/><rect x="289.34" y="341.89" width="3.78" height="3.50" rx="0.9" fill="#050505"/><rect x="291.79" y="338.99" width="3.78" height="3.50" rx="0.9" fill="#050505"/><rect x="294.62" y="336.78" width="3.78" height="3.50" rx="0.9" fill="#050505"/><rect x="297.59" y="335.64" width="3.78" height="3.50" rx="0.9" fill="#050505"/><rect x="300.33" y="332.67" width="3.78" height="3.50" rx="0.9" fill="#050505"/><rect x="302.33" y="330.93" width="3.78" height="3.50" rx="0.9" fill="#050505"/><rect x="304.82" y="329.54" width="3.78" height="3.50" rx="0.9" fill="#050505"/><rect x="307.78" y="330.19" width="3.78" height="3.50" rx="0.9" fill="#050505"/><rect x="310.60" y="329.44" width="3.78" height="3.50" rx="0.9" fill="#050505"/><rect x="312.61" y="328.37" width="3.78" height="3.50" rx="0.9" fill="#050505"/><rect x="315.11" y="327.45" width="3.78" height="3.50" rx="0.9" fill="#050505"/><rect x="317.95" y="326.92" width="3.78" height="3.50" rx="0.9" fill="#050505"/><rect x="321.34" y="326.03" width="3.78" height="3.50" rx="0.9" fill="#050505"/><rect x="323.63" y="326.10" width="3.78" height="3.50" rx="0.9" fill="#050505"/><rect x="325.57" y="326.26" width="3.78" height="3.50" rx="0.9" fill="#050505"/><rect x="328.35" y="324.52" width="3.78" height="3.50" rx="0.9" fill="#050505"/><rect x="331.27" y="324.16" width="3.78" height="3.50" rx="0.9" fill="#050505"/><rect x="334.39" y="324.34" width="3.78" height="3.50" rx="0.9" fill="#050505"/><rect x="336.31" y="322.95" width="3.78" height="3.50" rx="0.9" fill="#050505"/><rect x="338.73" y="323.83" width="3.78" height="3.50" rx="0.9" fill="#050505"/><rect x="341.70" y="323.38" width="3.78" height="3.50" rx="0.9" fill="#050505"/><rect x="344.33" y="322.93" width="3.78" height="3.50" rx="0.9" fill="#050505"/><rect x="347.20" y="321.97" width="3.78" height="3.50" rx="0.9" fill="#050505"/>
<text x="226.90" y="358.30" font-size="9.0" text-anchor="middle" fill="#333" stroke="#333" stroke-width="0.32" transform="rotate(-90 226.90 358.30)">% transmigration</text>
<line x1="243.90" y1="419.00" x2="243.90" y2="501.77" stroke="#2a2a2a" stroke-width="1.15" stroke-linecap="butt"/>
<line x1="243.33" y1="501.20" x2="350.50" y2="501.20" stroke="#2a2a2a" stroke-width="1.15" stroke-linecap="butt"/>
<text x="241.30" y="503.50" font-size="6.4" font-weight="bold" text-anchor="end" fill="#111" stroke="#111" stroke-width="0.32">0</text>
<line x1="241.70" y1="492.13" x2="243.90" y2="492.13" stroke="#111" stroke-width="1.0" stroke-linecap="butt"/>
<text x="241.30" y="494.44" font-size="6.4" font-weight="bold" text-anchor="end" fill="#111" stroke="#111" stroke-width="0.32">5</text>
<line x1="241.70" y1="483.07" x2="243.90" y2="483.07" stroke="#111" stroke-width="1.0" stroke-linecap="butt"/>
<text x="241.30" y="485.37" font-size="6.4" font-weight="bold" text-anchor="end" fill="#111" stroke="#111" stroke-width="0.32">10</text>
<line x1="241.70" y1="474.00" x2="243.90" y2="474.00" stroke="#111" stroke-width="1.0" stroke-linecap="butt"/>
<text x="241.30" y="476.30" font-size="6.4" font-weight="bold" text-anchor="end" fill="#111" stroke="#111" stroke-width="0.32">15</text>
<line x1="241.70" y1="464.93" x2="243.90" y2="464.93" stroke="#111" stroke-width="1.0" stroke-linecap="butt"/>
<text x="241.30" y="467.24" font-size="6.4" font-weight="bold" text-anchor="end" fill="#111" stroke="#111" stroke-width="0.32">20</text>
<line x1="241.70" y1="455.87" x2="243.90" y2="455.87" stroke="#111" stroke-width="1.0" stroke-linecap="butt"/>
<text x="241.30" y="458.17" font-size="6.4" font-weight="bold" text-anchor="end" fill="#111" stroke="#111" stroke-width="0.32">25</text>
<line x1="241.70" y1="446.80" x2="243.90" y2="446.80" stroke="#111" stroke-width="1.0" stroke-linecap="butt"/>
<text x="241.30" y="449.10" font-size="6.4" font-weight="bold" text-anchor="end" fill="#111" stroke="#111" stroke-width="0.32">30</text>
<line x1="241.70" y1="437.73" x2="243.90" y2="437.73" stroke="#111" stroke-width="1.0" stroke-linecap="butt"/>
<text x="241.30" y="440.04" font-size="6.4" font-weight="bold" text-anchor="end" fill="#111" stroke="#111" stroke-width="0.32">35</text>
<line x1="241.70" y1="428.67" x2="243.90" y2="428.67" stroke="#111" stroke-width="1.0" stroke-linecap="butt"/>
<text x="241.30" y="430.97" font-size="6.4" font-weight="bold" text-anchor="end" fill="#111" stroke="#111" stroke-width="0.32">40</text>
<line x1="241.70" y1="419.60" x2="243.90" y2="419.60" stroke="#111" stroke-width="1.0" stroke-linecap="butt"/>
<text x="241.30" y="421.90" font-size="6.4" font-weight="bold" text-anchor="end" fill="#111" stroke="#111" stroke-width="0.32">45</text>
<line x1="243.90" y1="501.20" x2="243.90" y2="503.20" stroke="#111" stroke-width="1.0" stroke-linecap="butt"/>
<text x="243.90" y="509.60" font-size="6.4" font-weight="bold" text-anchor="middle" fill="#111" stroke="#111" stroke-width="0.32">0</text>
<line x1="261.50" y1="501.20" x2="261.50" y2="503.20" stroke="#111" stroke-width="1.0" stroke-linecap="butt"/>
<text x="261.50" y="509.60" font-size="6.4" font-weight="bold" text-anchor="middle" fill="#111" stroke="#111" stroke-width="0.32">2</text>
<line x1="279.10" y1="501.20" x2="279.10" y2="503.20" stroke="#111" stroke-width="1.0" stroke-linecap="butt"/>
<text x="279.10" y="509.60" font-size="6.4" font-weight="bold" text-anchor="middle" fill="#111" stroke="#111" stroke-width="0.32">4</text>
<line x1="296.70" y1="501.20" x2="296.70" y2="503.20" stroke="#111" stroke-width="1.0" stroke-linecap="butt"/>
<text x="296.70" y="509.60" font-size="6.4" font-weight="bold" text-anchor="middle" fill="#111" stroke="#111" stroke-width="0.32">6</text>
<line x1="314.30" y1="501.20" x2="314.30" y2="503.20" stroke="#111" stroke-width="1.0" stroke-linecap="butt"/>
<text x="314.30" y="509.60" font-size="6.4" font-weight="bold" text-anchor="middle" fill="#111" stroke="#111" stroke-width="0.32">8</text>
<line x1="331.90" y1="501.20" x2="331.90" y2="503.20" stroke="#111" stroke-width="1.0" stroke-linecap="butt"/>
<text x="331.90" y="509.60" font-size="6.4" font-weight="bold" text-anchor="middle" fill="#111" stroke="#111" stroke-width="0.32">10</text>
<line x1="349.50" y1="501.20" x2="349.50" y2="503.20" stroke="#111" stroke-width="1.0" stroke-linecap="butt"/>
<text x="349.50" y="509.60" font-size="6.4" font-weight="bold" text-anchor="middle" fill="#111" stroke="#111" stroke-width="0.32">12</text>
<rect x="242.64" y="500.24" width="2.52" height="1.43" fill="#fff" stroke="#000" stroke-width="1.05"/><rect x="245.25" y="500.25" width="2.52" height="1.43" fill="#fff" stroke="#000" stroke-width="1.05"/><rect x="248.38" y="497.93" width="2.52" height="1.43" fill="#fff" stroke="#000" stroke-width="1.05"/><rect x="250.19" y="496.29" width="2.52" height="1.43" fill="#fff" stroke="#000" stroke-width="1.05"/><rect x="253.35" y="490.69" width="2.52" height="1.43" fill="#fff" stroke="#000" stroke-width="1.05"/><rect x="256.14" y="487.66" width="2.52" height="1.43" fill="#fff" stroke="#000" stroke-width="1.05"/><rect x="258.23" y="485.46" width="2.52" height="1.43" fill="#fff" stroke="#000" stroke-width="1.05"/><rect x="261.27" y="480.31" width="2.52" height="1.43" fill="#fff" stroke="#000" stroke-width="1.05"/><rect x="266.55" y="474.45" width="2.52" height="1.43" fill="#fff" stroke="#000" stroke-width="1.05"/><rect x="269.50" y="470.28" width="2.52" height="1.43" fill="#fff" stroke="#000" stroke-width="1.05"/><rect x="274.75" y="464.74" width="2.52" height="1.43" fill="#fff" stroke="#000" stroke-width="1.05"/><rect x="276.99" y="462.72" width="2.52" height="1.43" fill="#fff" stroke="#000" stroke-width="1.05"/><rect x="281.77" y="459.06" width="2.52" height="1.43" fill="#fff" stroke="#000" stroke-width="1.05"/><rect x="284.37" y="457.91" width="2.52" height="1.43" fill="#fff" stroke="#000" stroke-width="1.05"/><rect x="289.78" y="456.68" width="2.52" height="1.43" fill="#fff" stroke="#000" stroke-width="1.05"/><rect x="292.91" y="455.56" width="2.52" height="1.43" fill="#fff" stroke="#000" stroke-width="1.05"/><rect x="298.41" y="455.13" width="2.52" height="1.43" fill="#fff" stroke="#000" stroke-width="1.05"/><rect x="300.52" y="454.40" width="2.52" height="1.43" fill="#fff" stroke="#000" stroke-width="1.05"/><rect x="306.41" y="452.01" width="2.52" height="1.43" fill="#fff" stroke="#000" stroke-width="1.05"/><rect x="308.87" y="452.90" width="2.52" height="1.43" fill="#fff" stroke="#000" stroke-width="1.05"/><rect x="314.18" y="450.64" width="2.52" height="1.43" fill="#fff" stroke="#000" stroke-width="1.05"/><rect x="316.82" y="450.12" width="2.52" height="1.43" fill="#fff" stroke="#000" stroke-width="1.05"/><rect x="321.42" y="449.61" width="2.52" height="1.43" fill="#fff" stroke="#000" stroke-width="1.05"/><rect x="323.99" y="449.18" width="2.52" height="1.43" fill="#fff" stroke="#000" stroke-width="1.05"/><rect x="329.97" y="447.80" width="2.52" height="1.43" fill="#fff" stroke="#000" stroke-width="1.05"/><rect x="332.62" y="448.83" width="2.52" height="1.43" fill="#fff" stroke="#000" stroke-width="1.05"/><rect x="337.61" y="447.58" width="2.52" height="1.43" fill="#fff" stroke="#000" stroke-width="1.05"/><rect x="340.34" y="448.36" width="2.52" height="1.43" fill="#fff" stroke="#000" stroke-width="1.05"/><rect x="346.09" y="447.27" width="2.52" height="1.43" fill="#fff" stroke="#000" stroke-width="1.05"/><rect x="348.24" y="447.23" width="2.52" height="1.43" fill="#fff" stroke="#000" stroke-width="1.05"/><rect x="242.01" y="499.45" width="3.78" height="3.50" rx="0.9" fill="#050505"/><rect x="244.91" y="497.37" width="3.78" height="3.50" rx="0.9" fill="#050505"/><rect x="247.55" y="496.67" width="3.78" height="3.50" rx="0.9" fill="#050505"/><rect x="250.33" y="493.45" width="3.78" height="3.50" rx="0.9" fill="#050505"/><rect x="252.29" y="489.33" width="3.78" height="3.50" rx="0.9" fill="#050505"/><rect x="255.35" y="484.79" width="3.78" height="3.50" rx="0.9" fill="#050505"/><rect x="258.02" y="479.86" width="3.78" height="3.50" rx="0.9" fill="#050505"/><rect x="260.46" y="476.30" width="3.78" height="3.50" rx="0.9" fill="#050505"/><rect x="263.34" y="471.99" width="3.78" height="3.50" rx="0.9" fill="#050505"/><rect x="265.70" y="468.75" width="3.78" height="3.50" rx="0.9" fill="#050505"/><rect x="268.48" y="465.46" width="3.78" height="3.50" rx="0.9" fill="#050505"/><rect x="270.75" y="461.76" width="3.78" height="3.50" rx="0.9" fill="#050505"/><rect x="273.24" y="457.78" width="3.78" height="3.50" rx="0.9" fill="#050505"/><rect x="275.95" y="455.86" width="3.78" height="3.50" rx="0.9" fill="#050505"/><rect x="278.55" y="451.11" width="3.78" height="3.50" rx="0.9" fill="#050505"/><rect x="281.45" y="450.00" width="3.78" height="3.50" rx="0.9" fill="#050505"/><rect x="283.75" y="448.06" width="3.78" height="3.50" rx="0.9" fill="#050505"/><rect x="287.09" y="443.76" width="3.78" height="3.50" rx="0.9" fill="#050505"/><rect x="289.74" y="441.04" width="3.78" height="3.50" rx="0.9" fill="#050505"/><rect x="291.71" y="439.47" width="3.78" height="3.50" rx="0.9" fill="#050505"/><rect x="294.67" y="436.21" width="3.78" height="3.50" rx="0.9" fill="#050505"/><rect x="297.79" y="433.72" width="3.78" height="3.50" rx="0.9" fill="#050505"/><rect x="299.63" y="432.40" width="3.78" height="3.50" rx="0.9" fill="#050505"/><rect x="303.17" y="429.62" width="3.78" height="3.50" rx="0.9" fill="#050505"/><rect x="304.96" y="430.35" width="3.78" height="3.50" rx="0.9" fill="#050505"/><rect x="307.60" y="429.88" width="3.78" height="3.50" rx="0.9" fill="#050505"/><rect x="311.02" y="427.27" width="3.78" height="3.50" rx="0.9" fill="#050505"/><rect x="313.43" y="426.64" width="3.78" height="3.50" rx="0.9" fill="#050505"/><rect x="316.07" y="427.28" width="3.78" height="3.50" rx="0.9" fill="#050505"/><rect x="318.15" y="427.32" width="3.78" height="3.50" rx="0.9" fill="#050505"/><rect x="321.48" y="426.57" width="3.78" height="3.50" rx="0.9" fill="#050505"/><rect x="323.66" y="425.91" width="3.78" height="3.50" rx="0.9" fill="#050505"/><rect x="325.98" y="426.00" width="3.78" height="3.50" rx="0.9" fill="#050505"/><rect x="328.90" y="424.79" width="3.78" height="3.50" rx="0.9" fill="#050505"/><rect x="331.63" y="425.26" width="3.78" height="3.50" rx="0.9" fill="#050505"/><rect x="334.90" y="424.49" width="3.78" height="3.50" rx="0.9" fill="#050505"/><rect x="337.42" y="423.95" width="3.78" height="3.50" rx="0.9" fill="#050505"/><rect x="339.19" y="424.13" width="3.78" height="3.50" rx="0.9" fill="#050505"/><rect x="342.26" y="422.97" width="3.78" height="3.50" rx="0.9" fill="#050505"/><rect x="344.81" y="422.74" width="3.78" height="3.50" rx="0.9" fill="#050505"/><rect x="347.65" y="423.31" width="3.78" height="3.50" rx="0.9" fill="#050505"/>
<text x="226.90" y="461.30" font-size="9.0" text-anchor="middle" fill="#333" stroke="#333" stroke-width="0.32" transform="rotate(-90 226.90 461.30)">% transmigration</text>
<text x="100.50" y="341.40" font-size="8.4" fill="#111" stroke="#111" stroke-width="0.32" textLength="45.20" lengthAdjust="spacingAndGlyphs">Control IgG</text>
<text x="150.40" y="365.00" font-size="8.4" fill="#111" stroke="#111" stroke-width="0.32" textLength="35.60" lengthAdjust="spacingAndGlyphs">anti-KDR</text>
<text x="99.00" y="441.30" font-size="8.4" fill="#111" stroke="#111" stroke-width="0.32" textLength="45.20" lengthAdjust="spacingAndGlyphs">Control IgG</text>
<text x="151.00" y="462.90" font-size="8.4" fill="#111" stroke="#111" stroke-width="0.32" textLength="35.60" lengthAdjust="spacingAndGlyphs">anti-KDR</text>
<text x="258.40" y="328.50" font-size="8.4" fill="#111" stroke="#111" stroke-width="0.32" textLength="45.20" lengthAdjust="spacingAndGlyphs">Control IgG</text>
<text x="313.50" y="363.00" font-size="8.4" fill="#111" stroke="#111" stroke-width="0.32" textLength="35.60" lengthAdjust="spacingAndGlyphs">anti-KDR</text>
<text x="258.40" y="429.20" font-size="8.4" fill="#111" stroke="#111" stroke-width="0.32" textLength="45.20" lengthAdjust="spacingAndGlyphs">Control IgG</text>
<text x="311.50" y="465.80" font-size="8.4" fill="#111" stroke="#111" stroke-width="0.32" textLength="35.60" lengthAdjust="spacingAndGlyphs">anti-KDR</text>
<text x="137.50" y="530.00" font-size="8.8" font-weight="bold" text-anchor="middle" fill="#111" stroke="#111" stroke-width="0.32">Time (hrs)</text>
<text x="300.00" y="529.10" font-size="8.8" font-weight="bold" text-anchor="middle" fill="#111" stroke="#111" stroke-width="0.32">Time (hrs)</text>
<text x="428.80" y="299.90" font-size="8.9" text-anchor="middle" fill="#111" stroke="#111" stroke-width="0.32">Unactivated</text>
<text x="428.80" y="310.40" font-size="8.9" text-anchor="middle" fill="#111" stroke="#111" stroke-width="0.32">EC</text>
<text x="483.60" y="299.90" font-size="8.9" text-anchor="middle" fill="#111" stroke="#111" stroke-width="0.32">Activated</text>
<text x="483.60" y="310.40" font-size="8.9" text-anchor="middle" fill="#111" stroke="#111" stroke-width="0.32">EC</text>
<line x1="400.50" y1="313.50" x2="400.50" y2="397.30" stroke="#111" stroke-width="1.2" stroke-linecap="butt"/>
<line x1="399.90" y1="396.80" x2="507.40" y2="396.80" stroke="#111" stroke-width="1.2" stroke-linecap="butt"/>
<line x1="453.60" y1="314.00" x2="453.60" y2="396.80" stroke="#111" stroke-width="1.0" stroke-linecap="butt"/>
<line x1="506.90" y1="314.00" x2="506.90" y2="396.80" stroke="#111" stroke-width="1.0" stroke-linecap="butt"/>
<line x1="400.50" y1="314.00" x2="507.40" y2="314.00" stroke="#111" stroke-width="1.2" stroke-linecap="butt"/>
<line x1="398.10" y1="314.00" x2="400.50" y2="314.00" stroke="#111" stroke-width="1.0" stroke-linecap="butt"/>
<text x="395.70" y="317.00" font-size="8.3" text-anchor="end" fill="#111" stroke="#111" stroke-width="0.32">0</text>
<line x1="398.10" y1="325.83" x2="400.50" y2="325.83" stroke="#111" stroke-width="1.0" stroke-linecap="butt"/>
<text x="395.70" y="328.83" font-size="8.3" text-anchor="end" fill="#111" stroke="#111" stroke-width="0.32">5</text>
<line x1="398.10" y1="337.66" x2="400.50" y2="337.66" stroke="#111" stroke-width="1.0" stroke-linecap="butt"/>
<text x="395.70" y="340.66" font-size="8.3" text-anchor="end" fill="#111" stroke="#111" stroke-width="0.32">10</text>
<line x1="398.10" y1="349.49" x2="400.50" y2="349.49" stroke="#111" stroke-width="1.0" stroke-linecap="butt"/>
<text x="395.70" y="352.49" font-size="8.3" text-anchor="end" fill="#111" stroke="#111" stroke-width="0.32">15</text>
<line x1="398.10" y1="361.31" x2="400.50" y2="361.31" stroke="#111" stroke-width="1.0" stroke-linecap="butt"/>
<text x="395.70" y="364.31" font-size="8.3" text-anchor="end" fill="#111" stroke="#111" stroke-width="0.32">20</text>
<line x1="398.10" y1="373.14" x2="400.50" y2="373.14" stroke="#111" stroke-width="1.0" stroke-linecap="butt"/>
<text x="395.70" y="376.14" font-size="8.3" text-anchor="end" fill="#111" stroke="#111" stroke-width="0.32">25</text>
<line x1="398.10" y1="384.97" x2="400.50" y2="384.97" stroke="#111" stroke-width="1.0" stroke-linecap="butt"/>
<text x="395.70" y="387.97" font-size="8.3" text-anchor="end" fill="#111" stroke="#111" stroke-width="0.32">30</text>
<rect x="404.30" y="314.00" width="6.60" height="15.61" fill="#fff" stroke="#111" stroke-width="1.0"/>
<line x1="407.60" y1="329.61" x2="407.60" y2="331.74" stroke="#444" stroke-width="0.8" stroke-linecap="butt"/>
<line x1="405.70" y1="331.74" x2="409.50" y2="331.74" stroke="#444" stroke-width="0.8" stroke-linecap="butt"/>
<rect x="417.20" y="314.00" width="6.60" height="20.82" fill="#fff" stroke="#111" stroke-width="1.0"/>
<line x1="420.50" y1="334.82" x2="420.50" y2="336.00" stroke="#444" stroke-width="0.8" stroke-linecap="butt"/>
<line x1="418.60" y1="336.00" x2="422.40" y2="336.00" stroke="#444" stroke-width="0.8" stroke-linecap="butt"/>
<rect x="430.30" y="314.00" width="6.60" height="25.79" fill="#fff" stroke="#111" stroke-width="1.0"/>
<line x1="433.60" y1="339.79" x2="433.60" y2="341.92" stroke="#444" stroke-width="0.8" stroke-linecap="butt"/>
<line x1="431.70" y1="341.92" x2="435.50" y2="341.92" stroke="#444" stroke-width="0.8" stroke-linecap="butt"/>
<rect x="443.60" y="314.00" width="6.60" height="28.15" fill="#fff" stroke="#111" stroke-width="1.0"/>
<line x1="446.90" y1="342.15" x2="446.90" y2="343.10" stroke="#444" stroke-width="0.8" stroke-linecap="butt"/>
<line x1="445.00" y1="343.10" x2="448.80" y2="343.10" stroke="#444" stroke-width="0.8" stroke-linecap="butt"/>
<rect x="456.60" y="314.00" width="7.20" height="26.02" fill="#0a0a0a"/>
<line x1="460.20" y1="340.02" x2="460.20" y2="342.86" stroke="#444" stroke-width="0.8" stroke-linecap="butt"/>
<line x1="458.30" y1="342.86" x2="462.10" y2="342.86" stroke="#444" stroke-width="0.8" stroke-linecap="butt"/>
<rect x="469.60" y="314.00" width="7.20" height="48.97" fill="#0a0a0a"/>
<line x1="473.20" y1="362.97" x2="473.20" y2="365.10" stroke="#444" stroke-width="0.8" stroke-linecap="butt"/>
<line x1="471.30" y1="365.10" x2="475.10" y2="365.10" stroke="#444" stroke-width="0.8" stroke-linecap="butt"/>
<text x="473.20" y="373.11" font-size="6.6" text-anchor="middle" fill="#111" style="font-family:'Liberation Sans','DejaVu Sans',sans-serif">★</text>
<rect x="482.60" y="314.00" width="7.20" height="63.64" fill="#0a0a0a"/>
<line x1="486.20" y1="377.64" x2="486.20" y2="380.24" stroke="#444" stroke-width="0.8" stroke-linecap="butt"/>
<line x1="484.30" y1="380.24" x2="488.10" y2="380.24" stroke="#444" stroke-width="0.8" stroke-linecap="butt"/>
<text x="486.20" y="388.02" font-size="6.6" text-anchor="middle" fill="#111" style="font-family:'Liberation Sans','DejaVu Sans',sans-serif">★</text>
<rect x="495.60" y="314.00" width="7.20" height="67.42" fill="#0a0a0a"/>
<line x1="499.20" y1="381.42" x2="499.20" y2="384.03" stroke="#444" stroke-width="0.8" stroke-linecap="butt"/>
<line x1="497.30" y1="384.03" x2="501.10" y2="384.03" stroke="#444" stroke-width="0.8" stroke-linecap="butt"/>
<text x="499.20" y="392.04" font-size="6.6" text-anchor="middle" fill="#111" style="font-family:'Liberation Sans','DejaVu Sans',sans-serif">★</text>
<text x="407.20" y="390.80" font-size="8.9" fill="#111" stroke="#111" stroke-width="0.32">n=5</text>
<text x="407.80" y="406.60" font-size="8.0" text-anchor="middle" fill="#111" stroke="#111" stroke-width="0.32">2</text>
<text x="420.10" y="406.60" font-size="8.0" text-anchor="middle" fill="#111" stroke="#111" stroke-width="0.32">4</text>
<text x="433.00" y="406.60" font-size="8.0" text-anchor="middle" fill="#111" stroke="#111" stroke-width="0.32">8</text>
<text x="446.60" y="406.60" font-size="8.0" text-anchor="middle" fill="#111" stroke="#111" stroke-width="0.32">12</text>
<text x="459.60" y="406.60" font-size="8.0" text-anchor="middle" fill="#111" stroke="#111" stroke-width="0.32">0</text>
<text x="472.60" y="406.60" font-size="8.0" text-anchor="middle" fill="#111" stroke="#111" stroke-width="0.32">4</text>
<text x="485.80" y="406.60" font-size="8.0" text-anchor="middle" fill="#111" stroke="#111" stroke-width="0.32">8</text>
<text x="499.00" y="406.60" font-size="8.0" text-anchor="middle" fill="#111" stroke="#111" stroke-width="0.32">12</text>
<text x="382.40" y="353.10" font-size="8.85" text-anchor="middle" fill="#222" stroke="#222" stroke-width="0.32" transform="rotate(-90 382.40 353.10)">% inhibition by anti-KDR</text>
<line x1="400.50" y1="423.20" x2="400.50" y2="508.20" stroke="#111" stroke-width="1.2" stroke-linecap="butt"/>
<line x1="399.90" y1="507.70" x2="507.40" y2="507.70" stroke="#111" stroke-width="1.2" stroke-linecap="butt"/>
<line x1="453.60" y1="423.70" x2="453.60" y2="507.70" stroke="#111" stroke-width="1.0" stroke-linecap="butt"/>
<line x1="506.90" y1="423.70" x2="506.90" y2="507.70" stroke="#111" stroke-width="1.0" stroke-linecap="butt"/>
<line x1="400.50" y1="423.70" x2="507.40" y2="423.70" stroke="#111" stroke-width="1.2" stroke-linecap="butt"/>
<line x1="398.10" y1="423.70" x2="400.50" y2="423.70" stroke="#111" stroke-width="1.0" stroke-linecap="butt"/>
<text x="395.70" y="426.70" font-size="8.3" text-anchor="end" fill="#111" stroke="#111" stroke-width="0.32">0</text>
<line x1="398.10" y1="435.70" x2="400.50" y2="435.70" stroke="#111" stroke-width="1.0" stroke-linecap="butt"/>
<text x="395.70" y="438.70" font-size="8.3" text-anchor="end" fill="#111" stroke="#111" stroke-width="0.32">5</text>
<line x1="398.10" y1="447.70" x2="400.50" y2="447.70" stroke="#111" stroke-width="1.0" stroke-linecap="butt"/>
<text x="395.70" y="450.70" font-size="8.3" text-anchor="end" fill="#111" stroke="#111" stroke-width="0.32">10</text>
<line x1="398.10" y1="459.70" x2="400.50" y2="459.70" stroke="#111" stroke-width="1.0" stroke-linecap="butt"/>
<text x="395.70" y="462.70" font-size="8.3" text-anchor="end" fill="#111" stroke="#111" stroke-width="0.32">15</text>
<line x1="398.10" y1="471.70" x2="400.50" y2="471.70" stroke="#111" stroke-width="1.0" stroke-linecap="butt"/>
<text x="395.70" y="474.70" font-size="8.3" text-anchor="end" fill="#111" stroke="#111" stroke-width="0.32">20</text>
<line x1="398.10" y1="483.70" x2="400.50" y2="483.70" stroke="#111" stroke-width="1.0" stroke-linecap="butt"/>
<text x="395.70" y="486.70" font-size="8.3" text-anchor="end" fill="#111" stroke="#111" stroke-width="0.32">25</text>
<line x1="398.10" y1="495.70" x2="400.50" y2="495.70" stroke="#111" stroke-width="1.0" stroke-linecap="butt"/>
<text x="395.70" y="498.70" font-size="8.3" text-anchor="end" fill="#111" stroke="#111" stroke-width="0.32">30</text>
<rect x="404.30" y="423.70" width="6.60" height="16.20" fill="#fff" stroke="#111" stroke-width="1.0"/>
<line x1="407.60" y1="439.90" x2="407.60" y2="442.90" stroke="#444" stroke-width="0.8" stroke-linecap="butt"/>
<line x1="405.70" y1="442.90" x2="409.50" y2="442.90" stroke="#444" stroke-width="0.8" stroke-linecap="butt"/>
<rect x="417.20" y="423.70" width="6.60" height="21.84" fill="#fff" stroke="#111" stroke-width="1.0"/>
<line x1="420.50" y1="445.54" x2="420.50" y2="447.94" stroke="#444" stroke-width="0.8" stroke-linecap="butt"/>
<line x1="418.60" y1="447.94" x2="422.40" y2="447.94" stroke="#444" stroke-width="0.8" stroke-linecap="butt"/>
<rect x="430.30" y="423.70" width="6.60" height="26.64" fill="#fff" stroke="#111" stroke-width="1.0"/>
<line x1="433.60" y1="450.34" x2="433.60" y2="451.78" stroke="#444" stroke-width="0.8" stroke-linecap="butt"/>
<line x1="431.70" y1="451.78" x2="435.50" y2="451.78" stroke="#444" stroke-width="0.8" stroke-linecap="butt"/>
<rect x="443.60" y="423.70" width="6.60" height="28.56" fill="#fff" stroke="#111" stroke-width="1.0"/>
<line x1="446.90" y1="452.26" x2="446.90" y2="453.46" stroke="#444" stroke-width="0.8" stroke-linecap="butt"/>
<line x1="445.00" y1="453.46" x2="448.80" y2="453.46" stroke="#444" stroke-width="0.8" stroke-linecap="butt"/>
<rect x="456.60" y="423.70" width="7.20" height="24.24" fill="#0a0a0a"/>
<line x1="460.20" y1="447.94" x2="460.20" y2="450.34" stroke="#444" stroke-width="0.8" stroke-linecap="butt"/>
<line x1="458.30" y1="450.34" x2="462.10" y2="450.34" stroke="#444" stroke-width="0.8" stroke-linecap="butt"/>
<rect x="469.60" y="423.70" width="7.20" height="52.56" fill="#0a0a0a"/>
<line x1="473.20" y1="476.26" x2="473.20" y2="478.18" stroke="#444" stroke-width="0.8" stroke-linecap="butt"/>
<line x1="471.30" y1="478.18" x2="475.10" y2="478.18" stroke="#444" stroke-width="0.8" stroke-linecap="butt"/>
<text x="473.20" y="485.56" font-size="6.6" text-anchor="middle" fill="#111" style="font-family:'Liberation Sans','DejaVu Sans',sans-serif">★</text>
<rect x="482.60" y="423.70" width="7.20" height="68.16" fill="#0a0a0a"/>
<line x1="486.20" y1="491.86" x2="486.20" y2="497.38" stroke="#444" stroke-width="0.8" stroke-linecap="butt"/>
<line x1="484.30" y1="497.38" x2="488.10" y2="497.38" stroke="#444" stroke-width="0.8" stroke-linecap="butt"/>
<text x="486.20" y="504.52" font-size="6.6" text-anchor="middle" fill="#111" style="font-family:'Liberation Sans','DejaVu Sans',sans-serif">★</text>
<rect x="495.60" y="423.70" width="7.20" height="71.28" fill="#0a0a0a"/>
<line x1="499.20" y1="494.98" x2="499.20" y2="498.82" stroke="#444" stroke-width="0.8" stroke-linecap="butt"/>
<line x1="497.30" y1="498.82" x2="501.10" y2="498.82" stroke="#444" stroke-width="0.8" stroke-linecap="butt"/>
<text x="499.20" y="505.48" font-size="6.6" text-anchor="middle" fill="#111" style="font-family:'Liberation Sans','DejaVu Sans',sans-serif">★</text>
<text x="407.20" y="501.70" font-size="8.9" fill="#111" stroke="#111" stroke-width="0.32">n=5</text>
<text x="407.80" y="517.10" font-size="8.0" text-anchor="middle" fill="#111" stroke="#111" stroke-width="0.32">2</text>
<text x="420.10" y="517.10" font-size="8.0" text-anchor="middle" fill="#111" stroke="#111" stroke-width="0.32">4</text>
<text x="433.80" y="517.10" font-size="8.0" text-anchor="middle" fill="#111" stroke="#111" stroke-width="0.32">8</text>
<text x="446.90" y="517.10" font-size="8.0" text-anchor="middle" fill="#111" stroke="#111" stroke-width="0.32">12</text>
<text x="461.60" y="517.10" font-size="8.0" text-anchor="middle" fill="#111" stroke="#111" stroke-width="0.32">0</text>
<text x="474.60" y="517.10" font-size="8.0" text-anchor="middle" fill="#111" stroke="#111" stroke-width="0.32">4</text>
<text x="488.00" y="517.10" font-size="8.0" text-anchor="middle" fill="#111" stroke="#111" stroke-width="0.32">8</text>
<text x="501.20" y="517.10" font-size="8.0" text-anchor="middle" fill="#111" stroke="#111" stroke-width="0.32">12</text>
<text x="382.40" y="466.10" font-size="8.85" text-anchor="middle" fill="#222" stroke="#222" stroke-width="0.32" transform="rotate(-90 382.40 466.10)">% inhibition by anti-KDR</text>
<text x="457.20" y="529.00" font-size="8.8" font-weight="bold" text-anchor="middle" fill="#111" stroke="#111" stroke-width="0.32">Time (hrs)</text>
<text x="161.40" y="561.60" font-size="16.8" font-weight="bold" fill="#111" stroke="#111" stroke-width="0.32">C</text>
<defs><pattern id="hatch" width="1.6" height="1.6" patternUnits="userSpaceOnUse" patternTransform="rotate(45)"><rect width="1.6" height="1.6" fill="#cfcfcf"/><rect width="0.8" height="1.6" fill="#6e6e6e"/></pattern></defs>
<line x1="212.50" y1="556.30" x2="212.50" y2="659.70" stroke="#2a2a2a" stroke-width="1.1" stroke-linecap="butt"/>
<line x1="212.00" y1="659.30" x2="349.60" y2="659.30" stroke="#2a2a2a" stroke-width="1.1" stroke-linecap="butt"/>
<line x1="210.30" y1="659.30" x2="212.50" y2="659.30" stroke="#111" stroke-width="0.9" stroke-linecap="butt"/>
<text x="208.90" y="661.70" font-size="6.9" text-anchor="end" fill="#111" stroke="#111" stroke-width="0.32">0</text>
<line x1="210.30" y1="649.04" x2="212.50" y2="649.04" stroke="#111" stroke-width="0.9" stroke-linecap="butt"/>
<text x="208.90" y="651.44" font-size="6.9" text-anchor="end" fill="#111" stroke="#111" stroke-width="0.32">10</text>
<line x1="210.30" y1="638.78" x2="212.50" y2="638.78" stroke="#111" stroke-width="0.9" stroke-linecap="butt"/>
<text x="208.90" y="641.18" font-size="6.9" text-anchor="end" fill="#111" stroke="#111" stroke-width="0.32">20</text>
<line x1="210.30" y1="628.52" x2="212.50" y2="628.52" stroke="#111" stroke-width="0.9" stroke-linecap="butt"/>
<text x="208.90" y="630.92" font-size="6.9" text-anchor="end" fill="#111" stroke="#111" stroke-width="0.32">30</text>
<line x1="210.30" y1="618.26" x2="212.50" y2="618.26" stroke="#111" stroke-width="0.9" stroke-linecap="butt"/>
<text x="208.90" y="620.66" font-size="6.9" text-anchor="end" fill="#111" stroke="#111" stroke-width="0.32">40</text>
<line x1="210.30" y1="608.00" x2="212.50" y2="608.00" stroke="#111" stroke-width="0.9" stroke-linecap="butt"/>
<text x="208.90" y="610.40" font-size="6.9" text-anchor="end" fill="#111" stroke="#111" stroke-width="0.32">50</text>
<line x1="210.30" y1="597.74" x2="212.50" y2="597.74" stroke="#111" stroke-width="0.9" stroke-linecap="butt"/>
<text x="208.90" y="600.14" font-size="6.9" text-anchor="end" fill="#111" stroke="#111" stroke-width="0.32">60</text>
<line x1="210.30" y1="587.48" x2="212.50" y2="587.48" stroke="#111" stroke-width="0.9" stroke-linecap="butt"/>
<text x="208.90" y="589.88" font-size="6.9" text-anchor="end" fill="#111" stroke="#111" stroke-width="0.32">70</text>
<line x1="210.30" y1="577.22" x2="212.50" y2="577.22" stroke="#111" stroke-width="0.9" stroke-linecap="butt"/>
<text x="208.90" y="579.62" font-size="6.9" text-anchor="end" fill="#111" stroke="#111" stroke-width="0.32">80</text>
<line x1="210.30" y1="566.96" x2="212.50" y2="566.96" stroke="#111" stroke-width="0.9" stroke-linecap="butt"/>
<text x="208.90" y="569.36" font-size="6.9" text-anchor="end" fill="#111" stroke="#111" stroke-width="0.32">90</text>
<line x1="210.30" y1="556.70" x2="212.50" y2="556.70" stroke="#111" stroke-width="0.9" stroke-linecap="butt"/>
<text x="208.90" y="559.10" font-size="6.9" text-anchor="end" fill="#111" stroke="#111" stroke-width="0.32">100</text>
<line x1="212.50" y1="659.30" x2="212.50" y2="661.50" stroke="#111" stroke-width="0.9" stroke-linecap="butt"/>
<line x1="225.05" y1="659.30" x2="225.05" y2="661.50" stroke="#111" stroke-width="0.9" stroke-linecap="butt"/>
<line x1="237.60" y1="659.30" x2="237.60" y2="661.50" stroke="#111" stroke-width="0.9" stroke-linecap="butt"/>
<line x1="250.15" y1="659.30" x2="250.15" y2="661.50" stroke="#111" stroke-width="0.9" stroke-linecap="butt"/>
<line x1="262.70" y1="659.30" x2="262.70" y2="661.50" stroke="#111" stroke-width="0.9" stroke-linecap="butt"/>
<line x1="275.25" y1="659.30" x2="275.25" y2="661.50" stroke="#111" stroke-width="0.9" stroke-linecap="butt"/>
<line x1="287.80" y1="659.30" x2="287.80" y2="661.50" stroke="#111" stroke-width="0.9" stroke-linecap="butt"/>
<line x1="300.35" y1="659.30" x2="300.35" y2="661.50" stroke="#111" stroke-width="0.9" stroke-linecap="butt"/>
<line x1="312.90" y1="659.30" x2="312.90" y2="661.50" stroke="#111" stroke-width="0.9" stroke-linecap="butt"/>
<line x1="325.45" y1="659.30" x2="325.45" y2="661.50" stroke="#111" stroke-width="0.9" stroke-linecap="butt"/>
<line x1="338.00" y1="659.30" x2="338.00" y2="661.50" stroke="#111" stroke-width="0.9" stroke-linecap="butt"/>
<line x1="350.55" y1="659.30" x2="350.55" y2="661.50" stroke="#111" stroke-width="0.9" stroke-linecap="butt"/>
<line x1="219.00" y1="642.88" x2="219.00" y2="640.42" stroke="#333" stroke-width="0.8" stroke-linecap="butt"/>
<line x1="217.20" y1="640.42" x2="220.80" y2="640.42" stroke="#333" stroke-width="0.8" stroke-linecap="butt"/>
<rect x="215.40" y="642.88" width="7.20" height="16.42" fill="url(#hatch)" stroke="#555" stroke-width="0.6"/>
<line x1="231.60" y1="595.17" x2="231.60" y2="593.33" stroke="#333" stroke-width="0.8" stroke-linecap="butt"/>
<line x1="229.80" y1="593.33" x2="233.40" y2="593.33" stroke="#333" stroke-width="0.8" stroke-linecap="butt"/>
<rect x="228.00" y="595.17" width="7.20" height="64.12" fill="url(#hatch)" stroke="#555" stroke-width="0.6"/>
<line x1="244.20" y1="603.90" x2="244.20" y2="602.05" stroke="#333" stroke-width="0.8" stroke-linecap="butt"/>
<line x1="242.40" y1="602.05" x2="246.00" y2="602.05" stroke="#333" stroke-width="0.8" stroke-linecap="butt"/>
<rect x="240.60" y="603.90" width="7.20" height="55.40" fill="url(#hatch)" stroke="#555" stroke-width="0.6"/>
<line x1="256.70" y1="610.77" x2="256.70" y2="609.85" stroke="#333" stroke-width="0.8" stroke-linecap="butt"/>
<line x1="254.90" y1="609.85" x2="258.50" y2="609.85" stroke="#333" stroke-width="0.8" stroke-linecap="butt"/>
<rect x="253.10" y="610.77" width="7.20" height="48.53" fill="url(#hatch)" stroke="#555" stroke-width="0.6"/>
<line x1="269.40" y1="580.91" x2="269.40" y2="572.30" stroke="#333" stroke-width="0.8" stroke-linecap="butt"/>
<line x1="267.60" y1="572.30" x2="271.20" y2="572.30" stroke="#333" stroke-width="0.8" stroke-linecap="butt"/>
<rect x="265.80" y="580.91" width="7.20" height="78.39" fill="url(#hatch)" stroke="#555" stroke-width="0.6"/>
<line x1="293.60" y1="630.16" x2="293.60" y2="625.54" stroke="#333" stroke-width="0.8" stroke-linecap="butt"/>
<line x1="291.80" y1="625.54" x2="295.40" y2="625.54" stroke="#333" stroke-width="0.8" stroke-linecap="butt"/>
<rect x="290.20" y="630.16" width="6.80" height="29.14" fill="#0a0a0a"/>
<line x1="306.20" y1="576.30" x2="306.20" y2="572.30" stroke="#333" stroke-width="0.8" stroke-linecap="butt"/>
<line x1="304.40" y1="572.30" x2="308.00" y2="572.30" stroke="#333" stroke-width="0.8" stroke-linecap="butt"/>
<rect x="302.80" y="576.30" width="6.80" height="83.00" fill="#0a0a0a"/>
<line x1="318.70" y1="593.84" x2="318.70" y2="587.07" stroke="#333" stroke-width="0.8" stroke-linecap="butt"/>
<line x1="316.90" y1="587.07" x2="320.50" y2="587.07" stroke="#333" stroke-width="0.8" stroke-linecap="butt"/>
<rect x="315.30" y="593.84" width="6.80" height="65.46" fill="#0a0a0a"/>
<line x1="331.30" y1="611.39" x2="331.30" y2="604.61" stroke="#333" stroke-width="0.8" stroke-linecap="butt"/>
<line x1="329.50" y1="604.61" x2="333.10" y2="604.61" stroke="#333" stroke-width="0.8" stroke-linecap="butt"/>
<rect x="327.90" y="611.39" width="6.80" height="47.91" fill="#0a0a0a"/>
<line x1="343.90" y1="557.52" x2="343.90" y2="549.42" stroke="#333" stroke-width="0.8" stroke-linecap="butt"/>
<line x1="342.10" y1="549.42" x2="345.70" y2="549.42" stroke="#333" stroke-width="0.8" stroke-linecap="butt"/>
<rect x="340.50" y="557.52" width="6.80" height="101.78" fill="#0a0a0a"/>
<text x="256.90" y="609.00" font-size="6.2" text-anchor="middle" fill="#111" style="font-family:'Liberation Sans','DejaVu Sans',sans-serif">★</text>
<text x="331.10" y="604.10" font-size="6.2" text-anchor="middle" fill="#111" style="font-family:'Liberation Sans','DejaVu Sans',sans-serif">★</text>
<text x="184.80" y="605.00" font-size="8.2" text-anchor="middle" fill="#222" stroke="#222" stroke-width="0.32" transform="rotate(-90 184.80 605.00)">Transmigrated T cells</text>
<text x="194.80" y="605.60" font-size="8.2" text-anchor="middle" fill="#222" stroke="#222" stroke-width="0.32" transform="rotate(-90 194.80 605.60)">(Number/Well)</text>
<text x="163.00" y="672.00" font-size="6.8" fill="#111" stroke="#111" stroke-width="0.32">VEGF (ng/mL)</text>
<text x="219.20" y="672.00" font-size="6.9" text-anchor="middle" fill="#111" stroke="#111" stroke-width="0.32">-</text>
<text x="232.00" y="672.00" font-size="6.9" text-anchor="middle" fill="#111" stroke="#111" stroke-width="0.32">50</text>
<text x="244.30" y="672.00" font-size="6.9" text-anchor="middle" fill="#111" stroke="#111" stroke-width="0.32">50</text>
<text x="256.90" y="672.00" font-size="6.9" text-anchor="middle" fill="#111" stroke="#111" stroke-width="0.32">50</text>
<text x="269.40" y="672.00" font-size="6.9" text-anchor="middle" fill="#111" stroke="#111" stroke-width="0.32">-</text>
<text x="293.70" y="672.00" font-size="6.9" text-anchor="middle" fill="#111" stroke="#111" stroke-width="0.32">-</text>
<text x="306.30" y="672.00" font-size="6.9" text-anchor="middle" fill="#111" stroke="#111" stroke-width="0.32">50</text>
<text x="318.80" y="672.00" font-size="6.9" text-anchor="middle" fill="#111" stroke="#111" stroke-width="0.32">50</text>
<text x="331.20" y="672.00" font-size="6.9" text-anchor="middle" fill="#111" stroke="#111" stroke-width="0.32">50</text>
<text x="343.70" y="672.00" font-size="6.9" text-anchor="middle" fill="#111" stroke="#111" stroke-width="0.32">-</text>
<text x="163.00" y="680.50" font-size="6.8" fill="#111" stroke="#111" stroke-width="0.32">SU5416 (μM)</text>
<text x="219.20" y="680.50" font-size="6.9" text-anchor="middle" fill="#111" stroke="#111" stroke-width="0.32">-</text>
<text x="232.00" y="680.50" font-size="6.9" text-anchor="middle" fill="#111" stroke="#111" stroke-width="0.32">0</text>
<text x="244.30" y="680.50" font-size="6.9" text-anchor="middle" fill="#111" stroke="#111" stroke-width="0.32">1</text>
<text x="256.90" y="680.50" font-size="6.9" text-anchor="middle" fill="#111" stroke="#111" stroke-width="0.32">5</text>
<text x="269.40" y="680.50" font-size="6.9" text-anchor="middle" fill="#111" stroke="#111" stroke-width="0.32">-</text>
<text x="293.70" y="680.50" font-size="6.9" text-anchor="middle" fill="#111" stroke="#111" stroke-width="0.32">-</text>
<text x="306.30" y="680.50" font-size="6.9" text-anchor="middle" fill="#111" stroke="#111" stroke-width="0.32">0</text>
<text x="318.80" y="680.50" font-size="6.9" text-anchor="middle" fill="#111" stroke="#111" stroke-width="0.32">1</text>
<text x="331.20" y="680.50" font-size="6.9" text-anchor="middle" fill="#111" stroke="#111" stroke-width="0.32">5</text>
<text x="343.70" y="680.50" font-size="6.9" text-anchor="middle" fill="#111" stroke="#111" stroke-width="0.32">-</text>
<text x="163.00" y="689.20" font-size="6.8" fill="#111" stroke="#111" stroke-width="0.32">IP-10 (ng)</text>
<text x="219.20" y="689.20" font-size="6.9" text-anchor="middle" fill="#111" stroke="#111" stroke-width="0.32">-</text>
<text x="232.00" y="689.20" font-size="6.9" text-anchor="middle" fill="#111" stroke="#111" stroke-width="0.32">0</text>
<text x="244.30" y="689.20" font-size="6.9" text-anchor="middle" fill="#111" stroke="#111" stroke-width="0.32">0</text>
<text x="256.90" y="689.20" font-size="6.9" text-anchor="middle" fill="#111" stroke="#111" stroke-width="0.32">0</text>
<text x="269.40" y="689.20" font-size="6.9" text-anchor="middle" fill="#111" stroke="#111" stroke-width="0.32">50</text>
<text x="293.70" y="689.20" font-size="6.9" text-anchor="middle" fill="#111" stroke="#111" stroke-width="0.32">-</text>
<text x="306.30" y="689.20" font-size="6.9" text-anchor="middle" fill="#111" stroke="#111" stroke-width="0.32">0</text>
<text x="318.80" y="689.20" font-size="6.9" text-anchor="middle" fill="#111" stroke="#111" stroke-width="0.32">0</text>
<text x="331.20" y="689.20" font-size="6.9" text-anchor="middle" fill="#111" stroke="#111" stroke-width="0.32">0</text>
<text x="343.70" y="689.20" font-size="6.9" text-anchor="middle" fill="#111" stroke="#111" stroke-width="0.32">50</text>
</svg>
</body>
</html>
